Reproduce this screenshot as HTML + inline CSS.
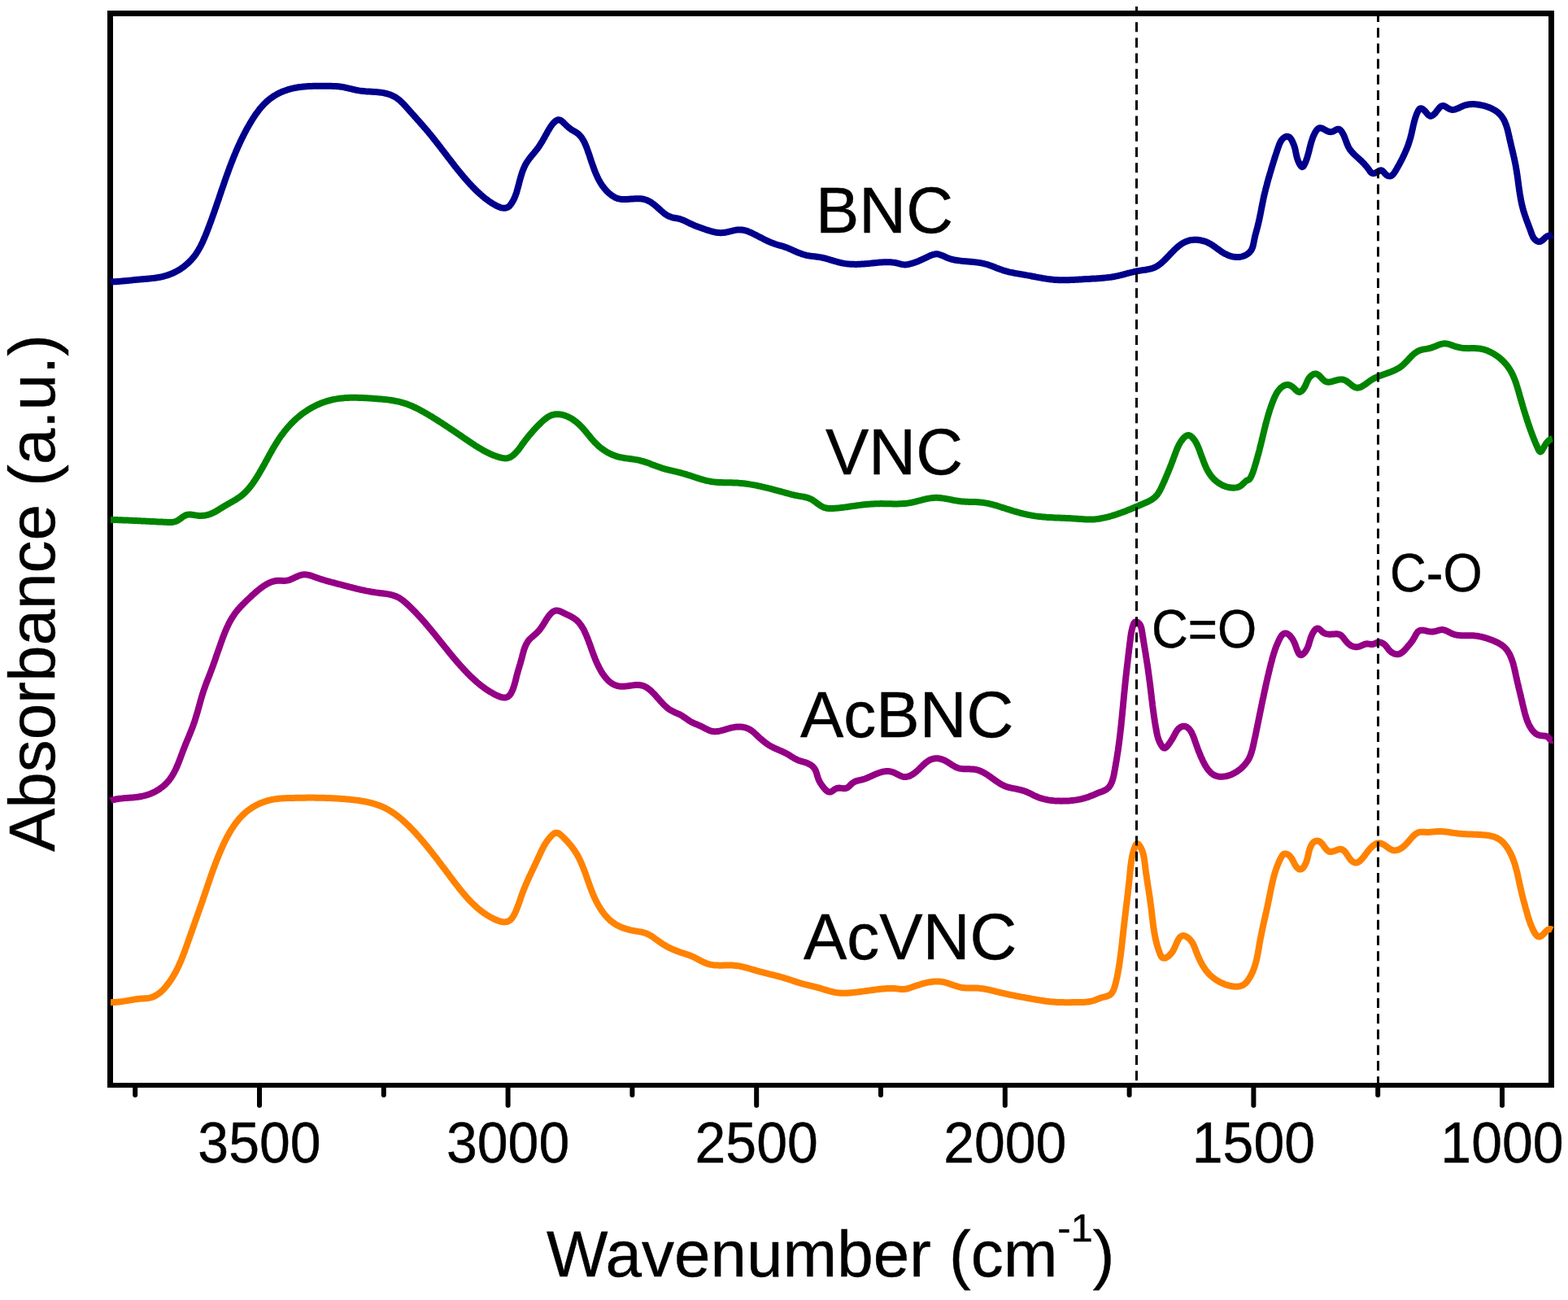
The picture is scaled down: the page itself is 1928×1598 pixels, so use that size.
<!DOCTYPE html><html><head><meta charset="utf-8"><title>FTIR spectra</title><style>html,body{margin:0;padding:0;background:#fff;}svg{display:block;}text{font-family:'Liberation Sans', Arial, sans-serif;fill:#000;stroke:#000;stroke-width:0.4px;}</style></head><body>
<svg width="1928" height="1598" viewBox="0 0 1928 1598">
<rect x="0" y="0" width="1928" height="1598" fill="#fff"/>
<rect x="132" y="13" width="7" height="1324" fill="#000"/>
<rect x="1904" y="13" width="7" height="1324" fill="#000"/>
<rect x="132" y="13" width="1779" height="7" fill="#000"/>
<rect x="132" y="1331" width="1779" height="6" fill="#000"/>
<line x1="319.0" y1="1334" x2="319.0" y2="1358.8" stroke="#000" stroke-width="6" stroke-linecap="round"/>
<line x1="624.6" y1="1334" x2="624.6" y2="1358.8" stroke="#000" stroke-width="6" stroke-linecap="round"/>
<line x1="930.2" y1="1334" x2="930.2" y2="1358.8" stroke="#000" stroke-width="6" stroke-linecap="round"/>
<line x1="1235.8" y1="1334" x2="1235.8" y2="1358.8" stroke="#000" stroke-width="6" stroke-linecap="round"/>
<line x1="1541.4" y1="1334" x2="1541.4" y2="1358.8" stroke="#000" stroke-width="6" stroke-linecap="round"/>
<line x1="1847.0" y1="1334" x2="1847.0" y2="1358.8" stroke="#000" stroke-width="6" stroke-linecap="round"/>
<line x1="166.2" y1="1334" x2="166.2" y2="1346" stroke="#000" stroke-width="6" stroke-linecap="round"/>
<line x1="471.8" y1="1334" x2="471.8" y2="1346" stroke="#000" stroke-width="6" stroke-linecap="round"/>
<line x1="777.4" y1="1334" x2="777.4" y2="1346" stroke="#000" stroke-width="6" stroke-linecap="round"/>
<line x1="1083.0" y1="1334" x2="1083.0" y2="1346" stroke="#000" stroke-width="6" stroke-linecap="round"/>
<line x1="1388.6" y1="1334" x2="1388.6" y2="1346" stroke="#000" stroke-width="6" stroke-linecap="round"/>
<line x1="1694.2" y1="1334" x2="1694.2" y2="1346" stroke="#000" stroke-width="6" stroke-linecap="round"/>
<path d="M136.0,346.5 136.5,346.4 138.0,346.4 139.5,346.3 141.0,346.3 142.5,346.2 144.0,346.1 145.5,346.0 147.0,345.9 148.5,345.7 150.0,345.6 151.5,345.5 153.0,345.3 154.4,345.2 155.9,345.1 157.4,344.9 158.9,344.8 160.4,344.6 161.9,344.4 163.4,344.3 164.9,344.1 166.4,344.0 167.9,343.8 169.4,343.7 170.9,343.6 172.4,343.4 173.9,343.3 175.4,343.2 176.8,343.0 178.3,342.9 179.8,342.8 181.3,342.7 182.8,342.5 184.3,342.4 185.8,342.2 187.3,342.1 188.8,341.9 190.3,341.7 191.8,341.5 193.3,341.3 194.7,341.0 196.2,340.8 197.7,340.5 199.1,340.2 200.6,339.8 202.1,339.4 203.5,339.0 204.9,338.6 206.4,338.1 207.8,337.7 209.2,337.1 210.6,336.6 212.0,336.0 213.3,335.4 214.7,334.7 216.0,334.0 217.4,333.3 218.7,332.6 220.0,331.9 221.2,331.1 222.5,330.3 223.7,329.4 225.0,328.5 226.2,327.6 227.3,326.7 228.5,325.8 229.7,324.8 230.8,323.8 231.9,322.8 233.0,321.7 234.0,320.7 235.0,319.6 236.0,318.5 237.0,317.3 238.0,316.2 238.9,315.0 239.8,313.8 240.7,312.6 241.5,311.3 242.3,310.1 243.1,308.8 243.9,307.5 244.7,306.2 245.4,304.9 246.1,303.6 246.8,302.3 247.5,300.9 248.1,299.6 248.8,298.2 249.4,296.9 250.0,295.5 250.6,294.1 251.2,292.8 251.8,291.4 252.4,290.0 253.0,288.6 253.5,287.2 254.1,285.8 254.6,284.4 255.2,283.0 255.7,281.6 256.2,280.2 256.8,278.8 257.3,277.4 257.8,276.0 258.3,274.6 258.9,273.2 259.4,271.8 259.9,270.4 260.4,269.0 260.9,267.5 261.4,266.1 261.9,264.7 262.4,263.3 262.9,261.9 263.4,260.5 263.9,259.1 264.4,257.6 264.9,256.2 265.4,254.8 265.9,253.4 266.3,252.0 266.8,250.5 267.3,249.1 267.8,247.7 268.3,246.3 268.8,244.9 269.3,243.4 269.7,242.0 270.2,240.6 270.7,239.2 271.2,237.8 271.7,236.3 272.1,234.9 272.6,233.5 273.1,232.1 273.6,230.7 274.1,229.2 274.6,227.8 275.1,226.4 275.6,225.0 276.0,223.6 276.5,222.2 277.0,220.7 277.5,219.3 278.0,217.9 278.5,216.5 279.0,215.1 279.5,213.7 280.1,212.3 280.6,210.8 281.1,209.4 281.6,208.0 282.1,206.6 282.6,205.2 283.2,203.8 283.7,202.4 284.2,201.0 284.8,199.6 285.3,198.2 285.9,196.8 286.4,195.4 287.0,194.0 287.5,192.6 288.1,191.3 288.7,189.9 289.3,188.5 289.8,187.1 290.4,185.7 291.0,184.3 291.6,183.0 292.2,181.6 292.8,180.2 293.4,178.8 294.1,177.5 294.7,176.1 295.3,174.8 296.0,173.4 296.6,172.0 297.2,170.7 297.9,169.3 298.6,168.0 299.2,166.7 299.9,165.3 300.6,164.0 301.3,162.6 302.0,161.3 302.7,160.0 303.4,158.7 304.1,157.4 304.9,156.1 305.6,154.8 306.4,153.5 307.1,152.2 307.9,150.9 308.7,149.6 309.4,148.3 310.2,147.0 311.0,145.8 311.8,144.5 312.7,143.2 313.5,142.0 314.3,140.7 315.2,139.5 316.1,138.3 317.0,137.1 317.9,135.9 318.8,134.7 319.7,133.5 320.7,132.4 321.7,131.2 322.7,130.1 323.7,129.0 324.7,127.9 325.8,126.9 326.9,125.8 328.0,124.8 329.1,123.8 330.2,122.9 331.4,121.9 332.6,121.0 333.8,120.1 335.0,119.3 336.3,118.4 337.5,117.6 338.8,116.9 340.1,116.1 341.4,115.4 342.8,114.7 344.1,114.0 345.5,113.4 346.9,112.8 348.2,112.2 349.6,111.7 351.1,111.2 352.5,110.7 353.9,110.2 355.3,109.8 356.8,109.4 358.2,109.0 359.7,108.7 361.2,108.3 362.6,108.0 364.1,107.8 365.6,107.5 367.1,107.3 368.5,107.0 370.0,106.9 371.5,106.7 373.0,106.5 374.5,106.4 376.0,106.3 377.5,106.2 379.0,106.1 380.5,106.0 382.0,105.9 383.5,105.9 385.0,105.8 386.5,105.8 388.0,105.8 389.5,105.8 391.0,105.7 392.5,105.7 394.0,105.7 395.5,105.8 397.0,105.8 398.5,105.8 400.0,105.8 401.5,105.8 403.0,105.8 404.5,105.8 406.0,105.8 407.5,105.8 409.0,105.9 410.5,105.9 412.0,106.0 413.5,106.0 415.0,106.2 416.5,106.3 418.0,106.5 419.5,106.7 420.9,106.9 422.4,107.2 423.9,107.5 425.4,107.8 426.8,108.1 428.3,108.5 429.7,108.8 431.2,109.1 432.7,109.5 434.1,109.8 435.6,110.2 437.0,110.5 438.5,110.8 440.0,111.1 441.5,111.4 442.9,111.6 444.4,111.8 445.9,112.0 447.4,112.1 448.9,112.2 450.4,112.4 451.9,112.5 453.4,112.6 454.9,112.6 456.4,112.7 457.9,112.8 459.4,112.9 460.9,113.0 462.4,113.1 463.9,113.2 465.4,113.4 466.9,113.5 468.4,113.7 469.8,113.9 471.3,114.2 472.8,114.5 474.3,114.8 475.7,115.2 477.2,115.6 478.6,116.0 480.0,116.5 481.4,117.1 482.8,117.7 484.1,118.4 485.4,119.1 486.7,119.8 488.0,120.7 489.2,121.6 490.4,122.5 491.5,123.4 492.6,124.4 493.7,125.5 494.8,126.5 495.9,127.6 496.9,128.7 497.9,129.8 498.9,130.9 499.9,132.0 500.9,133.1 501.9,134.2 502.9,135.4 503.9,136.5 504.9,137.6 505.9,138.7 506.9,139.9 507.9,141.0 508.9,142.1 509.9,143.2 510.9,144.3 511.9,145.5 512.9,146.6 513.9,147.7 514.9,148.8 515.9,149.9 516.9,151.1 517.8,152.2 518.8,153.3 519.8,154.4 520.8,155.6 521.8,156.7 522.8,157.8 523.8,159.0 524.7,160.1 525.7,161.3 526.7,162.4 527.6,163.6 528.6,164.7 529.5,165.9 530.5,167.0 531.4,168.2 532.4,169.4 533.3,170.6 534.2,171.7 535.2,172.9 536.1,174.1 537.0,175.3 537.9,176.4 538.9,177.6 539.8,178.8 540.7,180.0 541.6,181.2 542.5,182.4 543.4,183.6 544.3,184.8 545.3,186.0 546.2,187.1 547.1,188.3 548.0,189.5 548.9,190.7 549.8,191.9 550.7,193.1 551.6,194.3 552.6,195.5 553.5,196.7 554.4,197.9 555.3,199.0 556.2,200.2 557.1,201.4 558.1,202.6 559.0,203.8 559.9,205.0 560.9,206.1 561.8,207.3 562.7,208.5 563.7,209.6 564.6,210.8 565.6,212.0 566.5,213.1 567.5,214.3 568.4,215.4 569.4,216.6 570.4,217.7 571.4,218.9 572.3,220.0 573.3,221.1 574.3,222.3 575.3,223.4 576.3,224.5 577.3,225.6 578.3,226.7 579.4,227.8 580.4,228.9 581.4,230.0 582.5,231.0 583.5,232.1 584.6,233.2 585.7,234.2 586.7,235.3 587.8,236.3 588.9,237.3 590.0,238.3 591.1,239.3 592.3,240.3 593.4,241.3 594.6,242.3 595.7,243.2 596.9,244.1 598.1,245.0 599.3,245.9 600.5,246.8 601.8,247.7 603.0,248.5 604.3,249.3 605.5,250.1 606.8,250.9 608.1,251.6 609.4,252.4 610.8,253.1 612.1,253.7 613.5,254.3 614.9,254.9 616.3,255.3 617.8,255.6 619.3,255.8 620.8,255.8 622.3,255.6 623.7,255.1 625.0,254.4 626.2,253.5 627.2,252.4 628.1,251.2 629.0,250.0 629.8,248.7 630.5,247.4 631.3,246.1 631.9,244.8 632.6,243.4 633.1,242.0 633.7,240.6 634.2,239.2 634.7,237.8 635.2,236.4 635.6,234.9 636.0,233.5 636.4,232.0 636.8,230.6 637.2,229.1 637.6,227.7 638.0,226.2 638.3,224.8 638.7,223.3 639.1,221.9 639.5,220.4 639.9,219.0 640.3,217.6 640.7,216.1 641.2,214.7 641.6,213.3 642.1,211.8 642.6,210.4 643.1,209.0 643.7,207.6 644.3,206.2 644.9,204.9 645.5,203.5 646.2,202.2 647.0,200.9 647.7,199.6 648.6,198.3 649.4,197.1 650.3,195.9 651.2,194.7 652.1,193.5 653.0,192.3 654.0,191.2 654.9,190.0 655.9,188.9 656.9,187.7 657.8,186.5 658.8,185.4 659.7,184.2 660.6,183.0 661.5,181.8 662.4,180.6 663.2,179.3 664.0,178.1 664.8,176.8 665.6,175.5 666.4,174.3 667.2,173.0 667.9,171.7 668.6,170.4 669.4,169.1 670.1,167.7 670.8,166.4 671.6,165.1 672.3,163.8 673.0,162.5 673.8,161.2 674.5,159.9 675.3,158.6 676.1,157.3 676.9,156.0 677.7,154.8 678.6,153.6 679.5,152.4 680.5,151.3 681.5,150.2 682.6,149.2 683.8,148.3 685.2,147.6 686.6,147.2 688.1,147.4 689.5,148.0 690.7,148.8 691.8,149.8 692.9,150.8 694.0,151.9 695.1,152.9 696.2,154.0 697.2,155.0 698.4,156.0 699.5,157.0 700.7,157.9 701.9,158.8 703.1,159.6 704.4,160.4 705.7,161.1 707.0,161.9 708.3,162.7 709.6,163.5 710.7,164.4 711.9,165.4 712.9,166.5 713.9,167.6 714.9,168.8 715.7,170.0 716.5,171.3 717.3,172.6 718.0,173.9 718.7,175.2 719.3,176.6 719.9,178.0 720.5,179.3 721.0,180.7 721.6,182.1 722.1,183.5 722.6,185.0 723.1,186.4 723.6,187.8 724.1,189.2 724.6,190.6 725.1,192.0 725.5,193.5 726.0,194.9 726.5,196.3 726.9,197.7 727.4,199.2 727.9,200.6 728.4,202.0 728.9,203.4 729.4,204.8 729.9,206.2 730.4,207.7 730.9,209.1 731.5,210.5 732.0,211.8 732.6,213.2 733.2,214.6 733.8,216.0 734.4,217.3 735.1,218.7 735.7,220.0 736.4,221.4 737.2,222.7 737.9,224.0 738.7,225.3 739.5,226.5 740.3,227.8 741.2,229.0 742.1,230.2 743.0,231.4 744.0,232.5 745.0,233.7 746.0,234.8 747.0,235.8 748.1,236.9 749.2,237.9 750.4,238.8 751.6,239.8 752.8,240.6 754.1,241.4 755.4,242.2 756.7,242.9 758.1,243.4 759.5,244.0 760.9,244.3 762.4,244.6 763.9,244.9 765.4,245.0 766.9,245.0 768.4,245.0 769.9,245.0 771.4,244.9 772.9,244.8 774.4,244.7 775.9,244.6 777.4,244.5 778.9,244.4 780.4,244.3 781.9,244.2 783.4,244.2 784.9,244.2 786.4,244.2 787.9,244.3 789.4,244.5 790.8,244.7 792.3,245.1 793.7,245.5 795.2,246.0 796.5,246.6 797.9,247.2 799.2,247.9 800.5,248.7 801.7,249.6 802.9,250.5 804.1,251.4 805.3,252.3 806.4,253.3 807.6,254.3 808.7,255.3 809.8,256.3 810.9,257.3 812.0,258.3 813.1,259.3 814.3,260.3 815.4,261.2 816.6,262.2 817.8,263.1 819.0,263.9 820.3,264.7 821.6,265.4 823.0,266.1 824.4,266.6 825.8,267.1 827.3,267.5 828.7,267.8 830.2,268.0 831.7,268.3 833.2,268.5 834.6,268.8 836.1,269.2 837.5,269.7 838.9,270.2 840.3,270.8 841.7,271.4 843.0,272.0 844.4,272.7 845.7,273.4 847.1,274.0 848.4,274.7 849.8,275.3 851.2,275.9 852.5,276.5 853.9,277.1 855.3,277.7 856.7,278.2 858.1,278.8 859.5,279.3 860.9,279.8 862.3,280.3 863.7,280.8 865.1,281.3 866.6,281.8 868.0,282.3 869.4,282.7 870.8,283.2 872.3,283.6 873.7,284.0 875.2,284.5 876.6,284.8 878.1,285.2 879.5,285.5 881.0,285.8 882.5,286.0 884.0,286.1 885.5,286.2 887.0,286.2 888.5,286.1 890.0,286.0 891.5,285.8 892.9,285.5 894.4,285.2 895.9,284.8 897.3,284.5 898.8,284.1 900.2,283.8 901.7,283.4 903.2,283.1 904.6,282.8 906.1,282.6 907.6,282.5 909.1,282.4 910.6,282.4 912.1,282.5 913.6,282.8 915.1,283.0 916.5,283.4 918.0,283.8 919.4,284.3 920.8,284.9 922.2,285.4 923.5,286.0 924.9,286.7 926.2,287.3 927.6,288.0 928.9,288.7 930.3,289.4 931.6,290.1 932.9,290.8 934.2,291.4 935.6,292.1 936.9,292.8 938.2,293.5 939.6,294.2 940.9,294.9 942.3,295.5 943.6,296.2 945.0,296.8 946.4,297.4 947.7,298.0 949.1,298.5 950.5,299.1 951.9,299.6 953.4,300.1 954.8,300.5 956.2,301.0 957.7,301.4 959.1,301.8 960.6,302.2 962.0,302.6 963.4,303.1 964.9,303.6 966.3,304.1 967.7,304.6 969.1,305.1 970.5,305.7 971.8,306.3 973.2,306.9 974.6,307.5 975.9,308.1 977.3,308.7 978.7,309.4 980.1,309.9 981.4,310.5 982.8,311.1 984.2,311.6 985.7,312.1 987.1,312.6 988.5,313.0 990.0,313.4 991.4,313.8 992.9,314.1 994.4,314.3 995.9,314.6 997.3,314.8 998.8,314.9 1000.3,315.1 1001.8,315.3 1003.3,315.5 1004.8,315.7 1006.3,315.9 1007.8,316.1 1009.2,316.4 1010.7,316.7 1012.2,317.0 1013.6,317.3 1015.1,317.7 1016.5,318.1 1018.0,318.5 1019.4,318.9 1020.8,319.4 1022.3,319.8 1023.7,320.2 1025.1,320.7 1026.6,321.1 1028.0,321.5 1029.5,321.9 1030.9,322.3 1032.4,322.7 1033.8,323.0 1035.3,323.3 1036.8,323.6 1038.3,323.9 1039.7,324.1 1041.2,324.3 1042.7,324.4 1044.2,324.6 1045.7,324.7 1047.2,324.8 1048.7,324.8 1050.2,324.8 1051.7,324.9 1053.2,324.9 1054.7,324.8 1056.2,324.8 1057.7,324.7 1059.2,324.6 1060.7,324.6 1062.2,324.5 1063.7,324.3 1065.2,324.2 1066.7,324.1 1068.2,323.9 1069.7,323.8 1071.2,323.6 1072.7,323.5 1074.1,323.3 1075.6,323.2 1077.1,323.0 1078.6,322.9 1080.1,322.7 1081.6,322.6 1083.1,322.5 1084.6,322.4 1086.1,322.3 1087.6,322.2 1089.1,322.2 1090.6,322.2 1092.1,322.2 1093.6,322.2 1095.1,322.3 1096.6,322.4 1098.1,322.6 1099.6,322.8 1101.0,323.0 1102.5,323.3 1104.0,323.7 1105.4,324.1 1106.9,324.4 1108.3,324.8 1109.8,325.1 1111.3,325.3 1112.8,325.4 1114.3,325.3 1115.8,325.1 1117.2,324.8 1118.7,324.5 1120.2,324.1 1121.6,323.7 1123.0,323.2 1124.5,322.8 1125.9,322.3 1127.3,321.7 1128.7,321.2 1130.1,320.6 1131.4,320.0 1132.8,319.4 1134.2,318.8 1135.5,318.2 1136.9,317.5 1138.3,316.9 1139.6,316.2 1141.0,315.6 1142.3,314.9 1143.7,314.3 1145.1,313.7 1146.5,313.2 1147.9,312.8 1149.4,312.5 1150.9,312.3 1152.4,312.3 1153.8,312.5 1155.3,312.9 1156.7,313.4 1158.1,313.9 1159.5,314.5 1160.9,315.1 1162.2,315.8 1163.6,316.4 1165.0,317.0 1166.4,317.5 1167.8,318.0 1169.2,318.4 1170.7,318.8 1172.1,319.2 1173.6,319.5 1175.1,319.8 1176.6,320.0 1178.0,320.2 1179.5,320.4 1181.0,320.6 1182.5,320.8 1184.0,320.9 1185.5,321.1 1187.0,321.2 1188.5,321.3 1190.0,321.4 1191.5,321.5 1193.0,321.7 1194.5,321.8 1196.0,321.9 1197.5,322.1 1199.0,322.3 1200.4,322.4 1201.9,322.6 1203.4,322.8 1204.9,323.1 1206.4,323.3 1207.8,323.6 1209.3,323.9 1210.8,324.3 1212.2,324.6 1213.7,325.0 1215.1,325.5 1216.5,326.0 1217.9,326.5 1219.4,327.0 1220.8,327.5 1222.2,328.1 1223.5,328.6 1224.9,329.2 1226.3,329.7 1227.7,330.3 1229.1,330.8 1230.5,331.3 1232.0,331.8 1233.4,332.3 1234.8,332.7 1236.3,333.2 1237.7,333.5 1239.2,333.9 1240.6,334.3 1242.1,334.6 1243.5,334.9 1245.0,335.2 1246.5,335.5 1248.0,335.8 1249.4,336.1 1250.9,336.3 1252.4,336.6 1253.9,336.8 1255.3,337.1 1256.8,337.3 1258.3,337.6 1259.8,337.8 1261.3,338.1 1262.7,338.4 1264.2,338.6 1265.7,338.9 1267.2,339.2 1268.6,339.5 1270.1,339.8 1271.6,340.0 1273.1,340.3 1274.5,340.6 1276.0,340.9 1277.5,341.2 1279.0,341.4 1280.4,341.7 1281.9,342.0 1283.4,342.2 1284.9,342.4 1286.4,342.7 1287.8,342.9 1289.3,343.1 1290.8,343.3 1292.3,343.5 1293.8,343.6 1295.3,343.8 1296.8,343.9 1298.3,344.0 1299.8,344.1 1301.3,344.2 1302.8,344.2 1304.3,344.3 1305.8,344.3 1307.3,344.3 1308.8,344.3 1310.3,344.3 1311.8,344.3 1313.3,344.2 1314.8,344.2 1316.3,344.1 1317.8,344.1 1319.3,344.0 1320.8,343.9 1322.3,343.8 1323.8,343.7 1325.3,343.7 1326.8,343.6 1328.3,343.5 1329.7,343.4 1331.2,343.3 1332.7,343.2 1334.2,343.1 1335.7,343.0 1337.2,342.9 1338.7,342.9 1340.2,342.8 1341.7,342.7 1343.2,342.6 1344.7,342.5 1346.2,342.4 1347.7,342.4 1349.2,342.3 1350.7,342.2 1352.2,342.1 1353.7,341.9 1355.2,341.8 1356.7,341.7 1358.2,341.6 1359.7,341.4 1361.2,341.2 1362.7,341.1 1364.2,340.9 1365.6,340.7 1367.1,340.5 1368.6,340.2 1370.1,340.0 1371.6,339.7 1373.0,339.4 1374.5,339.1 1376.0,338.7 1377.4,338.4 1378.9,338.0 1380.3,337.7 1381.8,337.3 1383.2,336.9 1384.7,336.5 1386.1,336.1 1387.6,335.7 1389.0,335.4 1390.5,335.0 1391.9,334.6 1393.4,334.3 1394.9,333.9 1396.3,333.6 1397.8,333.3 1399.3,333.1 1400.8,332.8 1402.2,332.6 1403.7,332.3 1405.2,332.1 1406.7,331.9 1408.2,331.7 1409.7,331.5 1411.1,331.2 1412.6,330.9 1414.1,330.6 1415.5,330.2 1417.0,329.8 1418.4,329.3 1419.8,328.7 1421.1,328.1 1422.4,327.4 1423.7,326.6 1424.9,325.7 1426.2,324.9 1427.3,323.9 1428.5,322.9 1429.6,321.9 1430.7,320.9 1431.8,319.9 1432.8,318.8 1433.9,317.7 1434.9,316.7 1435.9,315.6 1437.0,314.5 1438.0,313.4 1439.0,312.3 1440.1,311.2 1441.1,310.1 1442.2,309.1 1443.2,308.0 1444.3,306.9 1445.4,305.9 1446.5,304.9 1447.6,303.9 1448.8,302.9 1449.9,302.0 1451.1,301.1 1452.3,300.2 1453.6,299.4 1454.9,298.6 1456.2,297.9 1457.6,297.3 1458.9,296.7 1460.3,296.2 1461.8,295.7 1463.2,295.3 1464.7,295.1 1466.2,294.9 1467.7,294.8 1469.2,294.7 1470.7,294.7 1472.2,294.8 1473.7,295.0 1475.2,295.2 1476.6,295.5 1478.1,295.8 1479.5,296.2 1481.0,296.6 1482.4,297.1 1483.8,297.6 1485.2,298.2 1486.5,298.9 1487.8,299.6 1489.1,300.4 1490.4,301.2 1491.7,302.0 1492.9,302.8 1494.1,303.7 1495.3,304.6 1496.5,305.5 1497.8,306.4 1499.0,307.2 1500.2,308.1 1501.4,309.0 1502.7,309.8 1503.9,310.6 1505.2,311.4 1506.6,312.1 1507.9,312.7 1509.3,313.4 1510.7,313.9 1512.1,314.4 1513.5,314.9 1515.0,315.3 1516.4,315.6 1517.9,315.8 1519.4,316.0 1520.9,316.0 1522.4,316.0 1523.9,315.9 1525.4,315.7 1526.8,315.4 1528.3,315.0 1529.7,314.5 1531.1,313.9 1532.4,313.2 1533.7,312.4 1534.9,311.5 1536.0,310.6 1537.0,309.5 1538.0,308.3 1538.8,307.0 1539.4,305.7 1540.0,304.3 1540.5,302.9 1540.9,301.4 1541.2,300.0 1541.5,298.5 1541.8,297.0 1542.1,295.5 1542.4,294.1 1542.7,292.6 1543.0,291.1 1543.4,289.7 1543.7,288.2 1544.1,286.8 1544.5,285.3 1544.9,283.9 1545.3,282.4 1545.7,281.0 1546.1,279.5 1546.4,278.1 1546.8,276.6 1547.2,275.2 1547.5,273.7 1547.8,272.2 1548.2,270.8 1548.5,269.3 1548.8,267.8 1549.1,266.4 1549.4,264.9 1549.7,263.4 1550.0,262.0 1550.3,260.5 1550.6,259.0 1550.8,257.5 1551.1,256.1 1551.4,254.6 1551.7,253.1 1552.0,251.7 1552.3,250.2 1552.6,248.7 1552.9,247.2 1553.2,245.8 1553.5,244.3 1553.8,242.8 1554.1,241.4 1554.5,239.9 1554.8,238.5 1555.2,237.0 1555.5,235.5 1555.9,234.1 1556.2,232.6 1556.6,231.2 1557.0,229.7 1557.4,228.3 1557.8,226.8 1558.1,225.4 1558.5,223.9 1558.9,222.5 1559.3,221.0 1559.7,219.6 1560.2,218.1 1560.6,216.7 1561.0,215.3 1561.4,213.8 1561.8,212.4 1562.3,210.9 1562.7,209.5 1563.1,208.1 1563.5,206.6 1564.0,205.2 1564.4,203.8 1564.8,202.3 1565.3,200.9 1565.7,199.4 1566.2,198.0 1566.6,196.6 1567.1,195.2 1567.5,193.7 1568.0,192.3 1568.4,190.9 1568.9,189.4 1569.4,188.0 1569.9,186.6 1570.3,185.2 1570.8,183.8 1571.3,182.3 1571.8,180.9 1572.3,179.5 1572.8,178.1 1573.4,176.7 1574.0,175.3 1574.7,174.0 1575.4,172.7 1576.3,171.5 1577.4,170.4 1578.5,169.4 1579.8,168.6 1581.1,168.0 1582.6,167.7 1584.1,167.9 1585.4,168.6 1586.4,169.6 1587.4,170.8 1588.2,172.1 1588.9,173.4 1589.5,174.8 1590.1,176.2 1590.7,177.5 1591.2,179.0 1591.7,180.4 1592.1,181.8 1592.5,183.3 1592.8,184.7 1593.1,186.2 1593.4,187.7 1593.7,189.1 1594.0,190.6 1594.4,192.1 1594.7,193.5 1595.2,195.0 1595.6,196.4 1596.2,197.8 1596.8,199.2 1597.4,200.5 1598.1,201.8 1598.9,203.1 1599.8,204.3 1601.0,205.2 1602.4,204.7 1603.2,203.5 1604.0,202.1 1604.6,200.8 1605.2,199.4 1605.8,198.0 1606.3,196.6 1606.8,195.2 1607.3,193.8 1607.7,192.3 1608.1,190.9 1608.5,189.5 1608.9,188.0 1609.3,186.6 1609.7,185.1 1610.0,183.6 1610.4,182.2 1610.7,180.7 1611.1,179.3 1611.5,177.8 1611.9,176.4 1612.3,174.9 1612.7,173.5 1613.2,172.1 1613.7,170.6 1614.2,169.2 1614.7,167.8 1615.3,166.5 1616.0,165.1 1616.6,163.8 1617.3,162.4 1618.1,161.2 1619.0,159.9 1620.0,158.8 1621.1,157.9 1622.5,157.3 1624.0,157.3 1625.4,157.7 1626.8,158.3 1628.1,159.0 1629.4,159.7 1630.7,160.5 1632.1,161.1 1633.5,161.7 1634.9,162.1 1636.4,162.2 1637.9,161.9 1639.3,161.4 1640.6,160.7 1641.9,160.0 1643.2,159.3 1644.7,158.8 1646.1,158.7 1647.5,159.4 1648.6,160.4 1649.5,161.5 1650.4,162.8 1651.1,164.1 1651.8,165.4 1652.5,166.8 1653.1,168.2 1653.6,169.5 1654.1,171.0 1654.7,172.4 1655.2,173.8 1655.7,175.2 1656.2,176.6 1656.8,178.0 1657.4,179.3 1658.0,180.7 1658.8,182.0 1659.5,183.3 1660.4,184.5 1661.3,185.7 1662.3,186.8 1663.3,188.0 1664.4,189.0 1665.4,190.1 1666.5,191.1 1667.6,192.1 1668.7,193.1 1669.8,194.1 1671.0,195.2 1672.1,196.2 1673.2,197.2 1674.2,198.2 1675.3,199.3 1676.4,200.4 1677.4,201.4 1678.4,202.6 1679.4,203.7 1680.3,204.8 1681.3,206.0 1682.2,207.2 1683.1,208.4 1683.9,209.6 1684.8,210.9 1685.7,212.0 1686.9,212.9 1688.4,213.2 1689.9,213.0 1691.3,212.5 1692.6,211.8 1694.0,211.1 1695.2,210.3 1696.6,209.7 1698.0,209.3 1699.5,209.8 1700.6,210.7 1701.6,211.8 1702.6,213.0 1703.6,214.1 1704.7,215.1 1706.0,215.9 1707.4,216.4 1708.9,216.6 1710.3,216.3 1711.6,215.5 1712.7,214.5 1713.7,213.4 1714.6,212.2 1715.4,210.9 1716.2,209.6 1716.9,208.3 1717.7,207.0 1718.4,205.7 1719.2,204.4 1719.9,203.1 1720.6,201.8 1721.3,200.5 1722.0,199.2 1722.7,197.8 1723.4,196.5 1724.1,195.2 1724.7,193.8 1725.4,192.5 1726.0,191.1 1726.7,189.7 1727.3,188.4 1727.9,187.0 1728.5,185.6 1729.1,184.3 1729.7,182.9 1730.2,181.5 1730.8,180.1 1731.3,178.7 1731.8,177.3 1732.3,175.8 1732.7,174.4 1733.2,173.0 1733.6,171.5 1734.1,170.1 1734.5,168.7 1734.8,167.2 1735.2,165.8 1735.6,164.3 1735.9,162.8 1736.2,161.4 1736.5,159.9 1736.9,158.4 1737.2,157.0 1737.5,155.5 1737.8,154.0 1738.2,152.6 1738.5,151.1 1738.9,149.7 1739.3,148.2 1739.7,146.8 1740.1,145.3 1740.6,143.9 1741.1,142.5 1741.6,141.1 1742.1,139.7 1742.8,138.3 1743.4,137.0 1744.1,135.6 1744.9,134.4 1746.1,133.4 1747.5,133.2 1748.9,133.7 1750.1,134.6 1751.2,135.6 1752.3,136.7 1753.3,137.8 1754.2,139.0 1755.2,140.1 1756.2,141.2 1757.4,142.1 1758.8,142.7 1760.3,142.5 1761.6,141.8 1762.8,140.9 1763.9,139.9 1764.9,138.8 1765.8,137.6 1766.7,136.4 1767.6,135.2 1768.6,134.0 1769.5,132.9 1770.5,131.8 1771.7,130.8 1773.0,130.1 1774.5,129.9 1775.9,130.3 1777.3,131.0 1778.6,131.8 1779.8,132.6 1781.1,133.4 1782.4,134.1 1783.8,134.6 1785.3,134.9 1786.8,134.9 1788.3,134.7 1789.7,134.3 1791.1,133.8 1792.5,133.3 1793.9,132.6 1795.2,132.0 1796.6,131.3 1797.9,130.7 1799.3,130.1 1800.7,129.6 1802.2,129.2 1803.6,128.8 1805.1,128.5 1806.6,128.3 1808.1,128.2 1809.6,128.1 1811.1,128.1 1812.6,128.1 1814.1,128.2 1815.6,128.4 1817.1,128.5 1818.5,128.7 1820.0,129.0 1821.5,129.3 1823.0,129.6 1824.4,129.9 1825.9,130.3 1827.3,130.8 1828.7,131.2 1830.1,131.7 1831.5,132.3 1832.9,132.9 1834.3,133.5 1835.6,134.2 1836.9,134.9 1838.2,135.7 1839.5,136.5 1840.7,137.4 1841.9,138.3 1843.0,139.3 1844.1,140.4 1845.1,141.5 1846.1,142.6 1847.0,143.8 1847.8,145.1 1848.6,146.3 1849.3,147.7 1850.0,149.0 1850.6,150.4 1851.1,151.8 1851.7,153.2 1852.2,154.6 1852.6,156.0 1853.1,157.4 1853.5,158.9 1853.9,160.3 1854.2,161.8 1854.6,163.2 1854.9,164.7 1855.2,166.2 1855.6,167.6 1855.9,169.1 1856.2,170.6 1856.5,172.0 1856.9,173.5 1857.2,174.9 1857.6,176.4 1857.9,177.9 1858.2,179.3 1858.6,180.8 1858.9,182.3 1859.3,183.7 1859.6,185.2 1860.0,186.6 1860.3,188.1 1860.7,189.6 1861.0,191.0 1861.3,192.5 1861.7,193.9 1862.0,195.4 1862.3,196.9 1862.6,198.3 1862.9,199.8 1863.2,201.3 1863.5,202.7 1863.8,204.2 1864.0,205.7 1864.3,207.2 1864.5,208.7 1864.8,210.1 1865.0,211.6 1865.2,213.1 1865.5,214.6 1865.7,216.1 1865.9,217.6 1866.1,219.0 1866.3,220.5 1866.5,222.0 1866.7,223.5 1866.9,225.0 1867.1,226.5 1867.3,228.0 1867.5,229.5 1867.7,230.9 1867.9,232.4 1868.1,233.9 1868.4,235.4 1868.6,236.9 1868.8,238.4 1869.1,239.8 1869.3,241.3 1869.6,242.8 1869.8,244.3 1870.1,245.7 1870.4,247.2 1870.7,248.7 1871.0,250.2 1871.3,251.6 1871.7,253.1 1872.0,254.5 1872.4,256.0 1872.8,257.4 1873.2,258.9 1873.6,260.3 1874.1,261.8 1874.5,263.2 1875.0,264.6 1875.5,266.0 1876.0,267.4 1876.5,268.9 1877.0,270.3 1877.5,271.7 1878.0,273.1 1878.6,274.5 1879.1,275.9 1879.6,277.3 1880.1,278.7 1880.7,280.1 1881.2,281.5 1881.7,282.9 1882.2,284.3 1882.7,285.7 1883.2,287.2 1883.8,288.6 1884.4,289.9 1885.0,291.3 1885.8,292.6 1886.7,293.8 1887.7,294.9 1888.9,295.8 1890.2,296.5 1891.6,297.0 1893.1,297.1 1894.5,296.7 1895.8,295.9 1897.0,295.0 1898.1,294.0 1899.2,293.0 1900.3,291.9 1901.5,291.0 1902.7,290.2 1904.2,289.7 1905.6,289.4 1907.1,289.2 1908.5,288.7 1908.8,288.5" fill="none" stroke="#00008B" stroke-width="8.0" stroke-linejoin="round" stroke-linecap="butt"/>
<path d="M136.0,638.9 136.5,638.9 138.0,639.0 139.5,639.0 141.0,639.0 142.5,639.1 144.0,639.1 145.5,639.2 147.0,639.2 148.5,639.3 150.0,639.3 151.5,639.4 153.0,639.4 154.5,639.5 156.0,639.5 157.5,639.6 159.0,639.7 160.5,639.7 162.0,639.8 163.5,639.9 165.0,639.9 166.5,640.0 168.0,640.1 169.5,640.2 171.0,640.2 172.5,640.3 174.0,640.4 175.5,640.5 177.0,640.5 178.5,640.6 180.0,640.7 181.5,640.8 183.0,640.8 184.5,640.9 186.0,641.0 187.5,641.1 189.0,641.1 190.5,641.2 192.0,641.3 193.5,641.4 195.0,641.4 196.5,641.5 198.0,641.6 199.5,641.6 201.0,641.7 202.5,641.8 204.0,641.8 205.5,641.9 207.0,642.0 208.5,642.0 210.0,642.0 211.5,641.9 213.0,641.7 214.4,641.4 215.9,641.0 217.3,640.4 218.6,639.7 219.9,638.9 221.1,638.1 222.3,637.2 223.5,636.3 224.7,635.4 226.0,634.6 227.3,633.9 228.7,633.2 230.1,632.8 231.6,632.6 233.1,632.5 234.6,632.6 236.1,632.7 237.6,632.9 239.0,633.2 240.5,633.4 242.0,633.6 243.5,633.8 245.0,633.9 246.5,633.9 248.0,633.9 249.5,633.8 251.0,633.7 252.5,633.5 253.9,633.2 255.4,632.8 256.9,632.4 258.3,632.0 259.7,631.4 261.1,630.8 262.4,630.2 263.7,629.5 265.1,628.8 266.4,628.0 267.6,627.3 268.9,626.5 270.2,625.7 271.5,624.9 272.7,624.1 274.0,623.3 275.3,622.5 276.6,621.8 277.9,621.0 279.2,620.3 280.5,619.6 281.8,618.8 283.1,618.1 284.4,617.3 285.7,616.6 287.0,615.8 288.3,615.1 289.6,614.3 290.9,613.5 292.1,612.7 293.4,611.8 294.6,611.0 295.8,610.1 297.0,609.1 298.2,608.2 299.3,607.2 300.4,606.2 301.5,605.2 302.6,604.1 303.6,603.0 304.6,601.9 305.6,600.8 306.6,599.7 307.5,598.5 308.4,597.3 309.4,596.1 310.3,594.9 311.1,593.7 312.0,592.5 312.8,591.2 313.7,590.0 314.5,588.7 315.3,587.4 316.1,586.2 316.9,584.9 317.6,583.6 318.4,582.3 319.2,581.0 319.9,579.7 320.7,578.4 321.4,577.1 322.2,575.8 322.9,574.5 323.6,573.2 324.4,571.9 325.1,570.6 325.8,569.3 326.5,567.9 327.2,566.6 328.0,565.3 328.7,564.0 329.4,562.7 330.1,561.4 330.8,560.0 331.6,558.7 332.3,557.4 333.0,556.1 333.8,554.8 334.5,553.5 335.2,552.2 336.0,550.9 336.7,549.6 337.5,548.3 338.3,547.0 339.1,545.7 339.9,544.5 340.7,543.2 341.5,541.9 342.3,540.7 343.1,539.4 344.0,538.2 344.8,536.9 345.7,535.7 346.6,534.5 347.5,533.3 348.4,532.1 349.3,530.9 350.2,529.7 351.2,528.6 352.1,527.4 353.1,526.3 354.1,525.1 355.1,524.0 356.1,522.9 357.1,521.8 358.1,520.7 359.2,519.6 360.2,518.6 361.3,517.5 362.4,516.5 363.5,515.5 364.6,514.4 365.7,513.5 366.9,512.5 368.0,511.5 369.2,510.6 370.4,509.6 371.5,508.7 372.8,507.8 374.0,507.0 375.2,506.1 376.5,505.3 377.7,504.5 379.0,503.6 380.3,502.9 381.5,502.1 382.9,501.4 384.2,500.6 385.5,499.9 386.8,499.2 388.2,498.6 389.5,497.9 390.9,497.3 392.3,496.7 393.7,496.1 395.0,495.6 396.4,495.0 397.9,494.5 399.3,494.0 400.7,493.6 402.1,493.1 403.6,492.7 405.0,492.3 406.5,491.9 407.9,491.5 409.4,491.2 410.9,490.9 412.3,490.6 413.8,490.4 415.3,490.1 416.8,489.9 418.3,489.7 419.8,489.5 421.2,489.4 422.7,489.3 424.2,489.1 425.7,489.0 427.2,489.0 428.7,488.9 430.2,488.8 431.7,488.8 433.2,488.8 434.7,488.8 436.2,488.8 437.7,488.8 439.2,488.8 440.7,488.9 442.2,488.9 443.7,489.0 445.2,489.0 446.7,489.1 448.2,489.2 449.7,489.3 451.2,489.3 452.7,489.4 454.2,489.5 455.7,489.6 457.2,489.7 458.7,489.8 460.2,489.9 461.7,490.1 463.2,490.2 464.7,490.3 466.2,490.4 467.7,490.5 469.2,490.6 470.7,490.8 472.2,490.9 473.7,491.1 475.2,491.2 476.7,491.4 478.1,491.6 479.6,491.8 481.1,492.0 482.6,492.3 484.1,492.5 485.6,492.8 487.0,493.1 488.5,493.4 490.0,493.7 491.4,494.0 492.9,494.4 494.3,494.8 495.8,495.2 497.2,495.7 498.6,496.1 500.0,496.6 501.5,497.1 502.9,497.7 504.3,498.2 505.6,498.8 507.0,499.4 508.4,500.0 509.7,500.6 511.1,501.3 512.5,501.9 513.8,502.6 515.1,503.3 516.5,504.0 517.8,504.7 519.1,505.4 520.4,506.1 521.7,506.9 523.0,507.6 524.3,508.4 525.6,509.1 526.9,509.9 528.2,510.7 529.5,511.4 530.8,512.2 532.0,513.0 533.3,513.8 534.6,514.6 535.9,515.4 537.1,516.2 538.4,517.0 539.7,517.8 540.9,518.6 542.2,519.4 543.5,520.2 544.7,521.1 546.0,521.9 547.2,522.7 548.5,523.5 549.7,524.4 551.0,525.2 552.2,526.0 553.5,526.9 554.7,527.7 556.0,528.5 557.2,529.4 558.5,530.2 559.7,531.0 560.9,531.9 562.2,532.7 563.4,533.6 564.7,534.4 565.9,535.2 567.2,536.1 568.4,536.9 569.6,537.8 570.9,538.6 572.1,539.5 573.4,540.3 574.6,541.1 575.9,542.0 577.1,542.8 578.3,543.7 579.6,544.5 580.8,545.3 582.1,546.1 583.4,547.0 584.6,547.8 585.9,548.6 587.2,549.4 588.4,550.2 589.7,550.9 591.0,551.7 592.3,552.5 593.6,553.2 594.9,554.0 596.2,554.7 597.6,555.4 598.9,556.1 600.2,556.7 601.6,557.4 602.9,558.0 604.3,558.6 605.7,559.2 607.1,559.8 608.5,560.3 609.9,560.8 611.3,561.3 612.8,561.7 614.2,562.2 615.7,562.5 617.1,562.9 618.6,563.1 620.1,563.3 621.6,563.4 623.1,563.3 624.6,563.1 626.0,562.6 627.4,562.0 628.7,561.3 629.9,560.4 631.1,559.5 632.2,558.5 633.3,557.4 634.3,556.4 635.3,555.3 636.3,554.1 637.3,553.0 638.2,551.8 639.1,550.6 640.0,549.4 640.9,548.2 641.7,546.9 642.6,545.7 643.5,544.5 644.4,543.3 645.3,542.1 646.2,540.9 647.1,539.7 648.1,538.5 649.0,537.4 649.9,536.2 650.9,535.0 651.8,533.9 652.8,532.7 653.8,531.6 654.8,530.5 655.8,529.3 656.8,528.2 657.8,527.1 658.8,526.0 659.8,524.9 660.9,523.9 661.9,522.8 663.0,521.7 664.1,520.7 665.1,519.6 666.2,518.6 667.3,517.6 668.4,516.6 669.6,515.6 670.8,514.7 672.0,513.8 673.2,512.9 674.5,512.1 675.8,511.4 677.1,510.8 678.5,510.2 680.0,509.8 681.5,509.5 682.9,509.3 684.4,509.2 685.9,509.2 687.4,509.3 688.9,509.4 690.4,509.7 691.9,510.0 693.3,510.4 694.7,510.8 696.2,511.4 697.5,511.9 698.9,512.6 700.3,513.2 701.6,513.9 702.9,514.7 704.1,515.5 705.4,516.3 706.6,517.2 707.8,518.1 709.0,519.0 710.1,520.0 711.3,521.0 712.4,522.0 713.4,523.1 714.5,524.1 715.5,525.2 716.5,526.3 717.5,527.4 718.5,528.6 719.5,529.7 720.5,530.9 721.4,532.0 722.4,533.2 723.3,534.3 724.3,535.5 725.2,536.7 726.2,537.8 727.1,539.0 728.1,540.1 729.1,541.2 730.1,542.4 731.1,543.5 732.2,544.5 733.2,545.6 734.3,546.6 735.4,547.7 736.5,548.7 737.7,549.6 738.8,550.6 740.0,551.5 741.2,552.4 742.5,553.2 743.7,554.1 745.0,554.9 746.3,555.7 747.6,556.4 748.9,557.1 750.2,557.8 751.6,558.4 753.0,559.0 754.3,559.6 755.7,560.1 757.2,560.6 758.6,561.1 760.0,561.5 761.5,561.8 763.0,562.1 764.4,562.4 765.9,562.7 767.4,563.0 768.9,563.2 770.4,563.4 771.9,563.6 773.3,563.8 774.8,564.0 776.3,564.2 777.8,564.4 779.3,564.6 780.8,564.9 782.3,565.1 783.7,565.4 785.2,565.7 786.7,566.0 788.1,566.4 789.6,566.8 791.0,567.2 792.4,567.6 793.9,568.1 795.3,568.6 796.7,569.1 798.1,569.6 799.5,570.1 800.9,570.7 802.3,571.2 803.7,571.7 805.1,572.3 806.5,572.8 807.9,573.3 809.3,573.8 810.8,574.3 812.2,574.8 813.6,575.3 815.0,575.7 816.5,576.2 817.9,576.6 819.4,577.0 820.8,577.3 822.3,577.7 823.7,578.0 825.2,578.4 826.7,578.7 828.1,579.1 829.6,579.4 831.0,579.7 832.5,580.1 834.0,580.4 835.4,580.8 836.9,581.2 838.3,581.6 839.8,582.0 841.2,582.4 842.7,582.8 844.1,583.2 845.5,583.7 846.9,584.2 848.4,584.6 849.8,585.1 851.2,585.6 852.7,586.0 854.1,586.5 855.5,587.0 856.9,587.4 858.4,587.9 859.8,588.3 861.2,588.8 862.7,589.2 864.1,589.6 865.6,590.0 867.0,590.4 868.5,590.8 869.9,591.1 871.4,591.4 872.9,591.7 874.3,592.0 875.8,592.2 877.3,592.4 878.8,592.6 880.3,592.7 881.8,592.8 883.3,592.9 884.8,593.0 886.3,593.1 887.8,593.1 889.3,593.2 890.8,593.2 892.3,593.2 893.8,593.2 895.3,593.3 896.8,593.3 898.3,593.3 899.8,593.3 901.3,593.4 902.8,593.4 904.3,593.5 905.8,593.6 907.3,593.6 908.8,593.8 910.3,593.9 911.8,594.0 913.3,594.2 914.8,594.3 916.3,594.5 917.7,594.7 919.2,594.9 920.7,595.1 922.2,595.4 923.7,595.6 925.2,595.9 926.6,596.1 928.1,596.4 929.6,596.7 931.1,597.0 932.5,597.3 934.0,597.6 935.5,597.9 936.9,598.3 938.4,598.6 939.8,598.9 941.3,599.3 942.8,599.6 944.2,600.0 945.7,600.4 947.1,600.7 948.6,601.1 950.0,601.5 951.5,601.9 952.9,602.3 954.4,602.7 955.8,603.1 957.3,603.4 958.7,603.8 960.2,604.2 961.6,604.6 963.1,605.0 964.5,605.4 966.0,605.8 967.4,606.2 968.9,606.6 970.3,607.0 971.8,607.4 973.2,607.8 974.7,608.1 976.1,608.5 977.6,608.8 979.1,609.1 980.5,609.4 982.0,609.7 983.5,609.9 985.0,610.2 986.4,610.4 987.9,610.7 989.4,611.0 990.9,611.3 992.3,611.7 993.7,612.1 995.2,612.7 996.5,613.3 997.9,613.9 999.2,614.7 1000.4,615.5 1001.6,616.4 1002.9,617.3 1004.1,618.2 1005.3,619.1 1006.5,619.9 1007.7,620.8 1009.0,621.6 1010.3,622.4 1011.6,623.1 1013.0,623.7 1014.4,624.2 1015.8,624.5 1017.3,624.8 1018.8,624.9 1020.3,625.0 1021.8,625.0 1023.3,625.0 1024.8,624.9 1026.3,624.8 1027.8,624.7 1029.3,624.6 1030.8,624.4 1032.3,624.3 1033.8,624.1 1035.3,624.0 1036.8,623.8 1038.3,623.6 1039.7,623.4 1041.2,623.2 1042.7,623.0 1044.2,622.7 1045.7,622.5 1047.2,622.3 1048.7,622.1 1050.1,621.9 1051.6,621.7 1053.1,621.5 1054.6,621.3 1056.1,621.1 1057.6,620.9 1059.1,620.7 1060.6,620.5 1062.0,620.3 1063.5,620.2 1065.0,620.0 1066.5,619.9 1068.0,619.8 1069.5,619.7 1071.0,619.6 1072.5,619.5 1074.0,619.4 1075.5,619.3 1077.0,619.3 1078.5,619.2 1080.0,619.2 1081.5,619.2 1083.0,619.1 1084.5,619.1 1086.0,619.2 1087.5,619.2 1089.0,619.2 1090.5,619.2 1092.0,619.3 1093.5,619.3 1095.0,619.3 1096.5,619.3 1098.0,619.4 1099.5,619.4 1101.0,619.4 1102.5,619.4 1104.0,619.4 1105.5,619.3 1107.0,619.3 1108.5,619.2 1110.0,619.1 1111.5,619.0 1113.0,618.9 1114.5,618.8 1116.0,618.6 1117.5,618.3 1119.0,618.1 1120.4,617.8 1121.9,617.5 1123.4,617.2 1124.8,616.8 1126.3,616.5 1127.7,616.1 1129.2,615.7 1130.6,615.4 1132.1,615.0 1133.6,614.6 1135.0,614.2 1136.5,613.9 1137.9,613.5 1139.4,613.2 1140.9,612.9 1142.3,612.6 1143.8,612.4 1145.3,612.2 1146.8,612.0 1148.3,611.9 1149.8,611.8 1151.3,611.8 1152.8,611.8 1154.3,611.9 1155.8,612.0 1157.3,612.2 1158.8,612.4 1160.3,612.6 1161.7,612.8 1163.2,613.1 1164.7,613.3 1166.2,613.6 1167.6,613.9 1169.1,614.2 1170.6,614.5 1172.0,614.8 1173.5,615.1 1175.0,615.3 1176.5,615.6 1178.0,615.8 1179.4,616.0 1180.9,616.2 1182.4,616.4 1183.9,616.5 1185.4,616.6 1186.9,616.7 1188.4,616.8 1189.9,616.8 1191.4,616.9 1192.9,616.9 1194.4,616.9 1195.9,617.0 1197.4,617.0 1198.9,617.1 1200.4,617.1 1201.9,617.2 1203.4,617.3 1204.9,617.4 1206.4,617.6 1207.9,617.7 1209.4,617.9 1210.9,618.2 1212.3,618.4 1213.8,618.7 1215.3,619.0 1216.8,619.3 1218.2,619.7 1219.7,620.0 1221.1,620.4 1222.6,620.8 1224.0,621.2 1225.5,621.6 1226.9,622.1 1228.3,622.5 1229.8,623.0 1231.2,623.4 1232.6,623.9 1234.0,624.3 1235.5,624.8 1236.9,625.3 1238.3,625.7 1239.8,626.2 1241.2,626.6 1242.6,627.1 1244.1,627.5 1245.5,628.0 1246.9,628.4 1248.4,628.8 1249.8,629.2 1251.3,629.6 1252.7,630.0 1254.1,630.4 1255.6,630.8 1257.1,631.2 1258.5,631.5 1260.0,631.9 1261.4,632.2 1262.9,632.5 1264.4,632.9 1265.8,633.1 1267.3,633.4 1268.8,633.7 1270.3,633.9 1271.8,634.2 1273.2,634.4 1274.7,634.6 1276.2,634.8 1277.7,634.9 1279.2,635.1 1280.7,635.2 1282.2,635.4 1283.7,635.5 1285.2,635.6 1286.7,635.8 1288.2,635.9 1289.7,636.0 1291.2,636.0 1292.7,636.1 1294.2,636.2 1295.7,636.3 1297.2,636.4 1298.7,636.4 1300.2,636.5 1301.7,636.5 1303.2,636.6 1304.7,636.7 1306.2,636.7 1307.7,636.8 1309.2,636.8 1310.7,636.9 1312.2,637.0 1313.7,637.0 1315.2,637.1 1316.7,637.2 1318.2,637.3 1319.7,637.4 1321.2,637.4 1322.6,637.5 1324.1,637.7 1325.6,637.8 1327.1,637.9 1328.6,638.0 1330.1,638.1 1331.6,638.2 1333.1,638.3 1334.6,638.4 1336.1,638.5 1337.6,638.5 1339.1,638.6 1340.6,638.6 1342.1,638.5 1343.6,638.5 1345.1,638.4 1346.6,638.3 1348.1,638.1 1349.6,637.9 1351.1,637.7 1352.6,637.5 1354.0,637.2 1355.5,636.9 1357.0,636.6 1358.5,636.3 1359.9,636.0 1361.4,635.6 1362.8,635.3 1364.3,634.9 1365.7,634.5 1367.2,634.0 1368.6,633.6 1370.0,633.2 1371.5,632.7 1372.9,632.2 1374.3,631.8 1375.7,631.3 1377.2,630.8 1378.6,630.3 1380.0,629.8 1381.4,629.2 1382.8,628.7 1384.2,628.2 1385.6,627.6 1387.0,627.1 1388.4,626.5 1389.8,625.9 1391.1,625.4 1392.5,624.8 1393.9,624.2 1395.3,623.6 1396.7,623.1 1398.1,622.5 1399.5,621.9 1400.8,621.3 1402.2,620.7 1403.6,620.1 1405.0,619.5 1406.4,618.9 1407.7,618.3 1409.1,617.7 1410.5,617.1 1411.8,616.5 1413.2,615.8 1414.5,615.1 1415.8,614.3 1417.0,613.5 1418.2,612.6 1419.4,611.7 1420.5,610.7 1421.6,609.6 1422.6,608.5 1423.5,607.3 1424.3,606.0 1425.1,604.8 1425.9,603.5 1426.6,602.2 1427.3,600.8 1427.9,599.5 1428.6,598.1 1429.2,596.7 1429.8,595.4 1430.4,594.0 1431.1,592.6 1431.7,591.3 1432.3,589.9 1432.9,588.5 1433.5,587.1 1434.0,585.8 1434.6,584.4 1435.2,583.0 1435.8,581.6 1436.4,580.2 1436.9,578.8 1437.5,577.4 1438.1,576.0 1438.6,574.6 1439.2,573.3 1439.7,571.9 1440.3,570.5 1440.8,569.1 1441.3,567.7 1441.9,566.3 1442.4,564.8 1442.9,563.4 1443.4,562.0 1443.9,560.6 1444.5,559.2 1445.0,557.8 1445.5,556.4 1446.0,555.0 1446.6,553.6 1447.1,552.2 1447.7,550.8 1448.3,549.4 1449.0,548.1 1449.6,546.8 1450.4,545.4 1451.1,544.1 1451.9,542.9 1452.8,541.7 1453.7,540.4 1454.6,539.3 1455.6,538.2 1456.7,537.1 1457.9,536.2 1459.2,535.4 1460.6,535.0 1462.1,535.1 1463.5,535.7 1464.7,536.5 1465.9,537.5 1466.9,538.6 1467.8,539.7 1468.7,541.0 1469.6,542.2 1470.3,543.5 1471.1,544.8 1471.7,546.1 1472.4,547.5 1473.0,548.9 1473.6,550.3 1474.1,551.6 1474.7,553.0 1475.2,554.4 1475.7,555.9 1476.2,557.3 1476.7,558.7 1477.2,560.1 1477.7,561.5 1478.3,562.9 1478.8,564.3 1479.3,565.7 1479.8,567.1 1480.4,568.5 1480.9,569.9 1481.5,571.3 1482.1,572.7 1482.7,574.1 1483.3,575.4 1484.0,576.8 1484.7,578.1 1485.4,579.4 1486.2,580.7 1487.0,582.0 1487.8,583.2 1488.7,584.4 1489.6,585.6 1490.6,586.8 1491.6,587.9 1492.6,589.0 1493.7,590.0 1494.8,591.0 1496.0,592.0 1497.2,592.9 1498.4,593.7 1499.7,594.5 1501.0,595.3 1502.3,596.0 1503.6,596.7 1505.0,597.3 1506.4,597.8 1507.8,598.3 1509.3,598.7 1510.7,599.0 1512.2,599.3 1513.7,599.5 1515.2,599.6 1516.7,599.7 1518.2,599.6 1519.7,599.4 1521.2,599.1 1522.6,598.7 1524.0,598.1 1525.3,597.3 1526.5,596.5 1527.6,595.5 1528.7,594.5 1529.8,593.4 1530.9,592.4 1532.0,591.4 1533.2,590.5 1534.7,590.2 1536.0,589.4 1536.9,588.3 1537.7,587.0 1538.4,585.7 1539.0,584.3 1539.6,582.9 1540.2,581.5 1540.7,580.1 1541.2,578.7 1541.6,577.3 1542.1,575.9 1542.5,574.4 1543.0,573.0 1543.4,571.5 1543.8,570.1 1544.3,568.7 1544.7,567.2 1545.1,565.8 1545.5,564.3 1545.9,562.9 1546.3,561.5 1546.7,560.0 1547.1,558.6 1547.5,557.1 1547.9,555.7 1548.3,554.2 1548.7,552.8 1549.0,551.3 1549.4,549.8 1549.7,548.4 1550.1,546.9 1550.5,545.5 1550.8,544.0 1551.2,542.6 1551.5,541.1 1551.9,539.6 1552.2,538.2 1552.6,536.7 1552.9,535.3 1553.3,533.8 1553.6,532.3 1554.0,530.9 1554.3,529.4 1554.7,528.0 1555.0,526.5 1555.4,525.1 1555.8,523.6 1556.1,522.1 1556.5,520.7 1556.9,519.2 1557.3,517.8 1557.7,516.3 1558.1,514.9 1558.5,513.5 1558.9,512.0 1559.3,510.6 1559.7,509.1 1560.2,507.7 1560.6,506.3 1561.1,504.8 1561.5,503.4 1562.0,502.0 1562.5,500.6 1563.0,499.1 1563.5,497.7 1564.0,496.3 1564.5,494.9 1565.1,493.5 1565.6,492.1 1566.2,490.7 1566.8,489.3 1567.4,488.0 1568.0,486.6 1568.7,485.3 1569.4,483.9 1570.1,482.6 1571.0,481.4 1571.8,480.2 1572.8,479.0 1573.8,477.9 1574.8,476.8 1576.0,475.9 1577.2,475.0 1578.5,474.2 1579.8,473.6 1581.3,473.1 1582.8,472.9 1584.3,473.0 1585.7,473.5 1587.0,474.1 1588.3,474.9 1589.5,475.8 1590.7,476.8 1591.8,477.8 1592.8,478.8 1593.9,479.9 1595.1,480.9 1596.3,481.7 1597.8,482.0 1599.2,481.5 1600.4,480.7 1601.5,479.6 1602.4,478.5 1603.3,477.2 1604.1,475.9 1604.8,474.6 1605.4,473.3 1606.0,471.9 1606.6,470.5 1607.2,469.1 1607.8,467.8 1608.5,466.4 1609.3,465.1 1610.2,463.9 1611.2,462.8 1612.3,461.8 1613.5,460.9 1614.8,460.1 1616.2,459.6 1617.6,459.4 1619.1,459.7 1620.4,460.4 1621.6,461.3 1622.7,462.3 1623.8,463.4 1624.8,464.5 1625.8,465.6 1626.9,466.6 1628.0,467.6 1629.2,468.5 1630.5,469.2 1632.0,469.6 1633.5,469.7 1635.0,469.6 1636.5,469.3 1637.9,469.0 1639.4,468.6 1640.8,468.1 1642.2,467.7 1643.7,467.3 1645.1,466.9 1646.6,466.6 1648.1,466.4 1649.6,466.4 1651.1,466.5 1652.5,466.9 1653.9,467.4 1655.2,468.1 1656.5,469.0 1657.7,469.9 1658.8,470.8 1660.0,471.8 1661.2,472.8 1662.3,473.7 1663.5,474.6 1664.8,475.4 1666.1,476.1 1667.6,476.5 1669.1,476.7 1670.5,476.6 1672.0,476.2 1673.4,475.7 1674.7,475.0 1676.0,474.2 1677.3,473.4 1678.5,472.6 1679.8,471.7 1681.0,470.8 1682.2,469.9 1683.4,469.0 1684.6,468.2 1685.9,467.3 1687.1,466.5 1688.4,465.8 1689.7,465.0 1691.1,464.4 1692.4,463.7 1693.8,463.1 1695.2,462.5 1696.6,461.9 1698.0,461.4 1699.4,460.9 1700.8,460.4 1702.2,459.9 1703.6,459.4 1705.0,458.9 1706.5,458.4 1707.9,457.9 1709.3,457.4 1710.7,456.9 1712.1,456.3 1713.5,455.7 1714.8,455.1 1716.2,454.5 1717.5,453.8 1718.8,453.1 1720.1,452.3 1721.4,451.5 1722.6,450.6 1723.8,449.7 1724.9,448.7 1726.1,447.7 1727.1,446.7 1728.2,445.6 1729.2,444.5 1730.3,443.5 1731.3,442.4 1732.3,441.3 1733.3,440.2 1734.4,439.1 1735.4,438.0 1736.5,437.0 1737.6,435.9 1738.7,434.9 1739.9,434.0 1741.1,433.1 1742.4,432.3 1743.7,431.6 1745.0,431.0 1746.5,430.4 1747.9,430.0 1749.4,429.7 1750.8,429.4 1752.3,429.1 1753.8,428.9 1755.3,428.6 1756.7,428.3 1758.2,428.0 1759.6,427.6 1761.1,427.1 1762.5,426.6 1763.9,426.1 1765.3,425.5 1766.7,424.9 1768.0,424.3 1769.4,423.8 1770.9,423.3 1772.3,422.9 1773.8,422.6 1775.2,422.3 1776.7,422.3 1778.2,422.4 1779.7,422.6 1781.2,423.0 1782.6,423.4 1784.0,423.9 1785.5,424.4 1786.9,424.9 1788.3,425.4 1789.7,425.9 1791.1,426.3 1792.6,426.7 1794.0,427.0 1795.5,427.3 1797.0,427.6 1798.5,427.8 1800.0,427.9 1801.5,428.0 1803.0,428.1 1804.5,428.1 1806.0,428.2 1807.5,428.1 1809.0,428.1 1810.5,428.1 1812.0,428.1 1813.5,428.1 1815.0,428.2 1816.5,428.2 1818.0,428.4 1819.5,428.5 1821.0,428.8 1822.4,429.1 1823.9,429.4 1825.3,429.8 1826.7,430.3 1828.2,430.8 1829.6,431.4 1830.9,432.0 1832.3,432.6 1833.6,433.3 1835.0,434.0 1836.3,434.7 1837.5,435.5 1838.8,436.3 1840.1,437.1 1841.3,438.0 1842.5,438.9 1843.7,439.8 1844.8,440.8 1845.9,441.8 1847.0,442.8 1848.1,443.8 1849.2,444.9 1850.2,446.0 1851.2,447.1 1852.2,448.3 1853.1,449.4 1854.0,450.6 1854.9,451.9 1855.7,453.1 1856.6,454.4 1857.3,455.6 1858.1,456.9 1858.8,458.3 1859.5,459.6 1860.1,461.0 1860.7,462.3 1861.3,463.7 1861.9,465.1 1862.5,466.5 1863.0,467.9 1863.5,469.3 1864.0,470.7 1864.5,472.1 1864.9,473.6 1865.4,475.0 1865.8,476.4 1866.3,477.9 1866.7,479.3 1867.1,480.7 1867.5,482.2 1867.9,483.6 1868.3,485.1 1868.7,486.5 1869.1,488.0 1869.6,489.4 1870.0,490.9 1870.4,492.3 1870.8,493.7 1871.2,495.2 1871.6,496.6 1872.1,498.1 1872.5,499.5 1872.9,500.9 1873.4,502.4 1873.8,503.8 1874.2,505.2 1874.7,506.7 1875.1,508.1 1875.6,509.5 1876.0,511.0 1876.5,512.4 1876.9,513.8 1877.4,515.3 1877.8,516.7 1878.3,518.1 1878.8,519.5 1879.3,521.0 1879.8,522.4 1880.2,523.8 1880.7,525.2 1881.2,526.6 1881.7,528.0 1882.2,529.5 1882.8,530.9 1883.3,532.3 1883.8,533.7 1884.3,535.1 1884.9,536.5 1885.4,537.9 1885.9,539.3 1886.5,540.7 1887.1,542.1 1887.6,543.5 1888.2,544.9 1888.8,546.2 1889.4,547.6 1890.0,549.0 1890.6,550.4 1891.2,551.7 1891.9,553.1 1892.6,554.4 1893.7,555.4 1895.0,555.0 1896.0,553.8 1896.7,552.5 1897.5,551.2 1898.2,549.9 1898.9,548.6 1899.7,547.3 1900.5,546.0 1901.3,544.8 1902.3,543.6 1903.3,542.5 1904.4,541.5 1905.6,540.6 1906.9,539.9 1908.3,539.4 1908.8,539.3" fill="none" stroke="#008400" stroke-width="8.0" stroke-linejoin="round" stroke-linecap="butt"/>
<path d="M136.0,984.1 136.4,983.9 137.9,983.5 139.3,983.1 140.8,982.8 142.2,982.5 143.7,982.2 145.2,982.0 146.7,981.8 148.2,981.6 149.7,981.4 151.2,981.3 152.7,981.1 154.2,981.0 155.7,980.9 157.1,980.8 158.6,980.7 160.1,980.6 161.6,980.5 163.1,980.4 164.6,980.2 166.1,980.1 167.6,979.9 169.1,979.7 170.6,979.5 172.1,979.3 173.5,979.0 175.0,978.7 176.5,978.4 177.9,978.0 179.4,977.6 180.8,977.2 182.2,976.7 183.7,976.2 185.1,975.7 186.4,975.1 187.8,974.5 189.2,973.9 190.5,973.2 191.8,972.5 193.1,971.7 194.4,971.0 195.7,970.1 196.9,969.3 198.1,968.4 199.3,967.5 200.5,966.6 201.6,965.6 202.8,964.6 203.8,963.6 204.9,962.5 205.9,961.4 206.9,960.3 207.9,959.1 208.8,957.9 209.7,956.7 210.5,955.5 211.3,954.2 212.1,953.0 212.9,951.7 213.6,950.4 214.3,949.0 215.0,947.7 215.7,946.4 216.3,945.0 217.0,943.6 217.6,942.3 218.2,940.9 218.7,939.5 219.3,938.1 219.9,936.7 220.4,935.3 220.9,933.9 221.5,932.5 222.0,931.1 222.5,929.7 223.0,928.3 223.6,926.9 224.1,925.5 224.6,924.1 225.1,922.7 225.7,921.3 226.2,919.9 226.8,918.5 227.3,917.1 227.9,915.7 228.4,914.3 229.0,912.9 229.6,911.5 230.2,910.1 230.7,908.8 231.3,907.4 231.9,906.0 232.5,904.6 233.0,903.2 233.6,901.8 234.2,900.4 234.7,899.0 235.3,897.6 235.8,896.2 236.4,894.8 236.9,893.4 237.4,892.0 237.9,890.6 238.4,889.2 238.9,887.8 239.4,886.4 239.8,884.9 240.3,883.5 240.7,882.1 241.2,880.6 241.6,879.2 242.0,877.8 242.4,876.3 242.9,874.9 243.3,873.4 243.7,872.0 244.1,870.5 244.5,869.1 244.9,867.7 245.3,866.2 245.7,864.8 246.1,863.3 246.5,861.9 246.9,860.4 247.3,859.0 247.7,857.6 248.2,856.1 248.6,854.7 249.0,853.2 249.5,851.8 249.9,850.4 250.4,849.0 250.9,847.5 251.4,846.1 251.9,844.7 252.4,843.3 252.9,841.9 253.4,840.5 253.9,839.1 254.5,837.7 255.0,836.3 255.6,834.9 256.1,833.5 256.7,832.1 257.2,830.7 257.8,829.3 258.3,827.9 258.8,826.5 259.4,825.1 259.9,823.7 260.4,822.3 260.9,820.9 261.5,819.5 262.0,818.0 262.5,816.6 263.0,815.2 263.5,813.8 264.0,812.4 264.5,811.0 265.0,809.6 265.5,808.1 265.9,806.7 266.4,805.3 266.9,803.9 267.4,802.5 267.9,801.0 268.4,799.6 268.9,798.2 269.4,796.8 269.9,795.4 270.4,794.0 270.9,792.5 271.4,791.1 271.9,789.7 272.4,788.3 272.9,786.9 273.4,785.5 273.9,784.1 274.4,782.7 275.0,781.3 275.5,779.9 276.1,778.5 276.6,777.1 277.2,775.7 277.8,774.3 278.4,772.9 279.0,771.6 279.6,770.2 280.3,768.9 280.9,767.5 281.6,766.2 282.3,764.8 283.0,763.5 283.7,762.2 284.5,760.9 285.3,759.6 286.0,758.3 286.9,757.1 287.7,755.8 288.6,754.6 289.4,753.4 290.3,752.2 291.3,751.0 292.2,749.8 293.2,748.7 294.2,747.6 295.2,746.4 296.2,745.3 297.2,744.3 298.3,743.2 299.3,742.1 300.4,741.1 301.5,740.0 302.5,739.0 303.6,737.9 304.7,736.9 305.8,735.9 306.9,734.9 308.0,733.9 309.1,732.8 310.2,731.8 311.3,730.8 312.5,729.8 313.6,728.8 314.7,727.8 315.8,726.8 317.0,725.9 318.1,724.9 319.3,724.0 320.5,723.0 321.7,722.1 322.9,721.3 324.1,720.4 325.4,719.6 326.7,718.8 328.0,718.1 329.3,717.4 330.7,716.7 332.0,716.1 333.4,715.6 334.8,715.1 336.3,714.6 337.7,714.2 339.2,714.0 340.7,713.8 342.2,713.7 343.7,713.7 345.2,713.7 346.7,713.8 348.2,713.9 349.7,713.9 351.2,713.8 352.7,713.6 354.1,713.3 355.6,712.9 357.0,712.4 358.4,711.8 359.8,711.2 361.1,710.6 362.5,709.9 363.8,709.3 365.2,708.7 366.6,708.1 368.0,707.5 369.4,707.1 370.9,706.7 372.3,706.4 373.8,706.3 375.3,706.3 376.8,706.4 378.3,706.6 379.8,706.9 381.2,707.3 382.7,707.7 384.1,708.2 385.5,708.7 386.9,709.2 388.3,709.7 389.7,710.2 391.2,710.7 392.6,711.2 394.0,711.7 395.4,712.2 396.9,712.6 398.3,713.0 399.7,713.5 401.2,713.9 402.6,714.3 404.1,714.7 405.5,715.1 407.0,715.5 408.4,715.9 409.9,716.2 411.3,716.6 412.8,717.0 414.2,717.4 415.7,717.8 417.1,718.1 418.6,718.5 420.0,718.9 421.5,719.3 422.9,719.7 424.4,720.1 425.8,720.4 427.3,720.8 428.7,721.2 430.2,721.6 431.6,721.9 433.1,722.3 434.5,722.7 436.0,723.0 437.5,723.4 438.9,723.8 440.4,724.1 441.8,724.4 443.3,724.8 444.8,725.1 446.2,725.4 447.7,725.7 449.2,726.1 450.6,726.4 452.1,726.6 453.6,726.9 455.1,727.2 456.5,727.5 458.0,727.7 459.5,727.9 461.0,728.2 462.5,728.4 463.9,728.6 465.4,728.8 466.9,729.0 468.4,729.2 469.9,729.3 471.4,729.5 472.9,729.7 474.4,729.9 475.8,730.1 477.3,730.4 478.8,730.7 480.3,731.0 481.7,731.3 483.2,731.7 484.6,732.2 486.0,732.7 487.4,733.3 488.8,733.9 490.1,734.6 491.4,735.3 492.7,736.2 493.9,737.0 495.1,737.9 496.3,738.8 497.4,739.8 498.6,740.8 499.7,741.8 500.8,742.8 501.9,743.8 503.0,744.8 504.1,745.9 505.1,746.9 506.2,748.0 507.3,749.0 508.3,750.1 509.4,751.2 510.4,752.2 511.5,753.3 512.5,754.4 513.5,755.5 514.6,756.6 515.6,757.7 516.6,758.8 517.6,759.9 518.6,761.0 519.6,762.1 520.6,763.3 521.6,764.4 522.6,765.5 523.5,766.7 524.5,767.8 525.5,769.0 526.5,770.1 527.4,771.2 528.4,772.4 529.3,773.5 530.3,774.7 531.3,775.9 532.2,777.0 533.2,778.2 534.1,779.3 535.1,780.5 536.0,781.7 536.9,782.8 537.9,784.0 538.8,785.2 539.8,786.4 540.7,787.5 541.6,788.7 542.6,789.9 543.5,791.0 544.5,792.2 545.4,793.4 546.3,794.5 547.3,795.7 548.2,796.9 549.2,798.0 550.1,799.2 551.0,800.4 552.0,801.5 552.9,802.7 553.9,803.9 554.8,805.0 555.8,806.2 556.8,807.3 557.7,808.5 558.7,809.6 559.7,810.8 560.6,811.9 561.6,813.1 562.6,814.2 563.6,815.3 564.6,816.5 565.6,817.6 566.6,818.7 567.6,819.8 568.6,820.9 569.6,822.0 570.6,823.1 571.6,824.2 572.7,825.3 573.7,826.4 574.7,827.5 575.8,828.5 576.9,829.6 577.9,830.7 579.0,831.7 580.1,832.7 581.2,833.8 582.3,834.8 583.4,835.8 584.5,836.8 585.6,837.8 586.7,838.8 587.9,839.8 589.0,840.7 590.2,841.7 591.4,842.6 592.6,843.5 593.8,844.4 595.0,845.3 596.2,846.2 597.4,847.0 598.7,847.9 599.9,848.7 601.2,849.5 602.5,850.3 603.8,851.1 605.1,851.8 606.4,852.5 607.7,853.3 609.0,854.0 610.4,854.6 611.7,855.2 613.1,855.8 614.5,856.4 615.9,856.8 617.4,857.2 618.9,857.4 620.4,857.5 621.9,857.4 623.3,857.0 624.7,856.3 625.9,855.4 626.9,854.3 627.8,853.1 628.5,851.9 629.2,850.5 629.9,849.2 630.4,847.8 631.0,846.4 631.5,845.0 631.9,843.5 632.4,842.1 632.8,840.7 633.2,839.2 633.6,837.8 634.0,836.3 634.3,834.9 634.7,833.4 635.0,831.9 635.4,830.5 635.8,829.0 636.2,827.6 636.6,826.1 637.0,824.7 637.4,823.3 637.8,821.8 638.3,820.4 638.7,818.9 639.1,817.5 639.6,816.1 640.0,814.6 640.4,813.2 640.8,811.7 641.2,810.3 641.6,808.8 642.0,807.4 642.3,805.9 642.7,804.5 643.1,803.0 643.5,801.6 643.9,800.1 644.3,798.7 644.8,797.3 645.3,795.9 645.9,794.5 646.5,793.1 647.1,791.8 647.9,790.5 648.7,789.2 649.5,787.9 650.4,786.8 651.4,785.6 652.5,784.6 653.6,783.6 654.7,782.6 655.9,781.6 657.0,780.6 658.1,779.7 659.3,778.7 660.4,777.6 661.4,776.5 662.4,775.4 663.4,774.3 664.3,773.1 665.2,771.9 666.0,770.7 666.9,769.4 667.7,768.2 668.5,766.9 669.3,765.6 670.1,764.3 670.8,763.0 671.6,761.8 672.4,760.5 673.3,759.3 674.1,758.0 675.0,756.8 676.0,755.7 677.0,754.5 678.0,753.5 679.2,752.5 680.4,751.7 681.8,751.1 683.2,750.6 684.7,750.5 686.2,750.7 687.7,751.1 689.1,751.6 690.5,752.2 691.8,752.8 693.2,753.5 694.5,754.2 695.8,754.8 697.2,755.5 698.6,756.1 699.9,756.8 701.3,757.4 702.6,758.1 703.9,758.9 705.2,759.6 706.4,760.5 707.6,761.3 708.8,762.3 709.9,763.3 711.0,764.4 712.0,765.5 712.9,766.6 713.8,767.8 714.7,769.1 715.5,770.3 716.3,771.6 717.1,772.9 717.8,774.2 718.5,775.5 719.1,776.9 719.7,778.3 720.4,779.6 720.9,781.0 721.5,782.4 722.1,783.8 722.6,785.2 723.2,786.6 723.7,788.0 724.2,789.4 724.7,790.8 725.3,792.2 725.8,793.6 726.3,795.0 726.8,796.4 727.3,797.9 727.8,799.3 728.3,800.7 728.8,802.1 729.3,803.5 729.8,804.9 730.4,806.3 730.9,807.7 731.5,809.1 732.0,810.5 732.6,811.9 733.2,813.3 733.8,814.6 734.4,816.0 735.1,817.4 735.7,818.7 736.4,820.0 737.1,821.4 737.8,822.7 738.5,824.0 739.3,825.3 740.0,826.6 740.9,827.9 741.7,829.1 742.6,830.3 743.5,831.5 744.4,832.7 745.4,833.8 746.4,835.0 747.4,836.0 748.5,837.1 749.6,838.0 750.8,839.0 752.0,839.8 753.3,840.6 754.6,841.4 756.0,842.0 757.4,842.5 758.8,843.0 760.3,843.3 761.7,843.6 763.2,843.7 764.7,843.8 766.2,843.8 767.7,843.7 769.2,843.6 770.7,843.4 772.2,843.2 773.7,843.0 775.2,842.8 776.7,842.6 778.2,842.4 779.7,842.2 781.1,842.1 782.6,842.0 784.1,842.0 785.6,842.1 787.1,842.2 788.6,842.5 790.1,842.8 791.5,843.3 792.9,843.9 794.2,844.6 795.5,845.4 796.7,846.2 797.9,847.1 799.1,848.0 800.2,849.0 801.3,850.0 802.4,851.1 803.5,852.1 804.5,853.2 805.5,854.3 806.5,855.5 807.5,856.6 808.5,857.7 809.5,858.8 810.5,860.0 811.5,861.1 812.5,862.2 813.5,863.3 814.5,864.4 815.5,865.5 816.6,866.6 817.7,867.6 818.8,868.6 819.9,869.6 821.1,870.6 822.3,871.5 823.5,872.3 824.8,873.1 826.1,873.8 827.4,874.5 828.8,875.1 830.2,875.8 831.5,876.4 832.9,877.0 834.3,877.6 835.6,878.3 837.0,878.9 838.3,879.7 839.5,880.5 840.8,881.3 842.0,882.1 843.3,883.0 844.5,883.9 845.7,884.7 847.0,885.6 848.2,886.4 849.5,887.2 850.8,887.9 852.2,888.5 853.5,889.1 854.9,889.7 856.3,890.3 857.7,890.9 859.1,891.5 860.5,892.1 861.8,892.7 863.2,893.4 864.5,894.0 865.8,894.7 867.1,895.4 868.5,896.1 869.8,896.8 871.2,897.4 872.6,898.0 874.0,898.5 875.5,898.8 876.9,899.1 878.4,899.2 879.9,899.2 881.4,899.1 882.9,899.0 884.4,898.7 885.9,898.4 887.3,898.0 888.8,897.6 890.2,897.2 891.6,896.8 893.1,896.3 894.5,895.9 896.0,895.5 897.4,895.1 898.9,894.7 900.3,894.4 901.8,894.1 903.3,893.8 904.8,893.6 906.2,893.5 907.7,893.4 909.2,893.4 910.7,893.5 912.2,893.6 913.7,893.8 915.2,894.1 916.7,894.4 918.1,894.9 919.5,895.4 920.8,896.1 922.2,896.8 923.4,897.6 924.6,898.5 925.8,899.4 926.9,900.4 928.0,901.4 929.1,902.4 930.2,903.5 931.3,904.5 932.4,905.5 933.5,906.5 934.6,907.6 935.8,908.5 936.9,909.5 938.0,910.5 939.2,911.4 940.4,912.4 941.6,913.3 942.8,914.2 944.0,915.0 945.3,915.8 946.6,916.6 947.9,917.4 949.2,918.1 950.5,918.8 951.9,919.4 953.2,920.0 954.6,920.6 956.0,921.2 957.4,921.8 958.7,922.4 960.1,923.0 961.5,923.6 962.9,924.2 964.2,924.9 965.6,925.5 966.9,926.2 968.2,926.9 969.5,927.7 970.8,928.5 972.1,929.3 973.3,930.1 974.6,930.9 975.9,931.7 977.2,932.4 978.5,933.1 979.8,933.8 981.2,934.4 982.6,934.9 984.1,935.4 985.5,935.8 986.9,936.2 988.4,936.7 989.8,937.1 991.2,937.6 992.6,938.1 994.0,938.7 995.3,939.4 996.6,940.1 997.9,941.0 999.0,941.9 1000.1,943.0 1001.0,944.2 1001.9,945.4 1002.6,946.7 1003.2,948.1 1003.7,949.5 1004.2,950.9 1004.6,952.4 1005.1,953.8 1005.5,955.2 1006.0,956.7 1006.5,958.1 1007.1,959.4 1007.8,960.8 1008.5,962.1 1009.3,963.4 1010.1,964.6 1011.0,965.8 1011.9,967.0 1012.8,968.2 1013.8,969.4 1014.8,970.5 1015.9,971.5 1017.0,972.5 1018.3,973.2 1019.8,973.6 1021.2,973.5 1022.6,972.9 1023.9,972.1 1025.1,971.2 1026.3,970.3 1027.6,969.6 1029.0,969.0 1030.5,968.7 1031.9,968.6 1033.4,968.7 1034.9,968.9 1036.4,969.1 1037.9,969.2 1039.4,969.1 1040.9,968.7 1042.2,968.0 1043.4,967.1 1044.5,966.1 1045.5,965.0 1046.6,964.0 1047.7,963.0 1048.9,962.1 1050.2,961.3 1051.5,960.6 1053.0,960.1 1054.4,959.7 1055.8,959.3 1057.3,959.0 1058.8,958.7 1060.2,958.3 1061.7,957.9 1063.1,957.5 1064.5,957.0 1065.9,956.4 1067.3,955.8 1068.7,955.2 1070.0,954.6 1071.4,954.0 1072.8,953.4 1074.1,952.7 1075.5,952.1 1076.9,951.5 1078.3,951.0 1079.7,950.4 1081.1,949.9 1082.5,949.5 1084.0,949.1 1085.4,948.7 1086.9,948.4 1088.4,948.2 1089.9,948.1 1091.4,948.1 1092.9,948.1 1094.4,948.3 1095.8,948.6 1097.3,949.0 1098.7,949.5 1100.1,950.1 1101.4,950.7 1102.7,951.4 1104.1,952.1 1105.4,952.8 1106.8,953.5 1108.1,954.0 1109.6,954.5 1111.0,954.9 1112.5,955.0 1114.0,955.0 1115.5,954.7 1116.9,954.4 1118.4,953.9 1119.7,953.2 1121.1,952.5 1122.3,951.8 1123.6,950.9 1124.8,950.0 1125.9,949.1 1127.1,948.1 1128.2,947.1 1129.3,946.1 1130.4,945.0 1131.4,944.0 1132.5,942.9 1133.6,941.9 1134.7,940.8 1135.8,939.8 1136.9,938.8 1138.0,937.8 1139.2,936.9 1140.4,936.0 1141.6,935.2 1142.9,934.4 1144.3,933.7 1145.7,933.2 1147.1,932.8 1148.6,932.5 1150.1,932.3 1151.6,932.3 1153.1,932.3 1154.6,932.5 1156.0,932.8 1157.5,933.2 1158.9,933.6 1160.3,934.2 1161.7,934.8 1163.0,935.5 1164.3,936.3 1165.6,937.0 1166.8,937.8 1168.1,938.7 1169.4,939.5 1170.6,940.3 1171.9,941.1 1173.2,941.8 1174.5,942.6 1175.9,943.2 1177.2,943.8 1178.7,944.3 1180.1,944.6 1181.6,944.9 1183.1,945.1 1184.6,945.2 1186.1,945.3 1187.6,945.3 1189.1,945.3 1190.6,945.3 1192.1,945.3 1193.6,945.4 1195.1,945.4 1196.6,945.5 1198.1,945.7 1199.5,945.9 1201.0,946.3 1202.5,946.7 1203.9,947.1 1205.3,947.7 1206.7,948.3 1208.0,948.9 1209.3,949.6 1210.7,950.3 1211.9,951.1 1213.2,951.9 1214.5,952.7 1215.7,953.6 1216.9,954.4 1218.2,955.3 1219.4,956.2 1220.6,957.1 1221.8,957.9 1223.0,958.8 1224.2,959.7 1225.5,960.5 1226.7,961.4 1228.0,962.2 1229.2,963.0 1230.5,963.8 1231.8,964.5 1233.2,965.2 1234.5,965.8 1235.9,966.4 1237.3,966.9 1238.8,967.4 1240.2,967.8 1241.7,968.2 1243.1,968.5 1244.6,968.8 1246.0,969.1 1247.5,969.4 1249.0,969.7 1250.5,970.0 1251.9,970.3 1253.4,970.7 1254.9,971.0 1256.3,971.4 1257.8,971.8 1259.2,972.2 1260.6,972.7 1262.0,973.3 1263.4,973.9 1264.7,974.5 1266.1,975.1 1267.4,975.8 1268.8,976.4 1270.1,977.1 1271.5,977.8 1272.8,978.4 1274.2,979.0 1275.6,979.6 1277.0,980.2 1278.4,980.7 1279.8,981.2 1281.2,981.6 1282.7,982.0 1284.1,982.4 1285.6,982.7 1287.1,983.0 1288.5,983.3 1290.0,983.6 1291.5,983.8 1293.0,984.0 1294.5,984.1 1296.0,984.3 1297.5,984.4 1299.0,984.5 1300.5,984.6 1302.0,984.6 1303.5,984.6 1305.0,984.7 1306.5,984.6 1308.0,984.6 1309.5,984.6 1311.0,984.5 1312.5,984.5 1314.0,984.4 1315.5,984.3 1317.0,984.1 1318.5,984.0 1319.9,983.8 1321.4,983.6 1322.9,983.4 1324.4,983.2 1325.9,982.9 1327.3,982.6 1328.8,982.3 1330.3,982.0 1331.7,981.6 1333.2,981.2 1334.6,980.8 1336.1,980.3 1337.5,979.9 1338.9,979.4 1340.3,978.8 1341.7,978.3 1343.1,977.7 1344.5,977.2 1345.9,976.6 1347.2,976.0 1348.6,975.4 1350.0,974.8 1351.4,974.3 1352.8,973.7 1354.2,973.2 1355.6,972.7 1357.0,972.1 1358.4,971.5 1359.7,970.8 1360.9,970.0 1362.1,969.0 1363.2,968.0 1364.1,966.8 1365.0,965.6 1365.7,964.3 1366.4,962.9 1367.0,961.6 1367.5,960.2 1368.0,958.7 1368.4,957.3 1368.8,955.8 1369.2,954.4 1369.5,952.9 1369.8,951.5 1370.1,950.0 1370.3,948.5 1370.6,947.0 1370.9,945.6 1371.1,944.1 1371.4,942.6 1371.7,941.1 1371.9,939.6 1372.2,938.2 1372.4,936.7 1372.7,935.2 1372.9,933.7 1373.2,932.2 1373.4,930.8 1373.6,929.3 1373.9,927.8 1374.1,926.3 1374.3,924.8 1374.6,923.4 1374.8,921.9 1375.0,920.4 1375.2,918.9 1375.4,917.4 1375.6,915.9 1375.8,914.4 1376.0,913.0 1376.2,911.5 1376.4,910.0 1376.6,908.5 1376.8,907.0 1376.9,905.5 1377.1,904.0 1377.3,902.5 1377.5,901.0 1377.6,899.5 1377.8,898.1 1378.0,896.6 1378.1,895.1 1378.3,893.6 1378.5,892.1 1378.6,890.6 1378.8,889.1 1378.9,887.6 1379.1,886.1 1379.2,884.6 1379.4,883.1 1379.5,881.6 1379.7,880.1 1379.8,878.7 1380.0,877.2 1380.1,875.7 1380.2,874.2 1380.4,872.7 1380.5,871.2 1380.7,869.7 1380.8,868.2 1381.0,866.7 1381.1,865.2 1381.2,863.7 1381.4,862.2 1381.5,860.7 1381.7,859.2 1381.8,857.7 1381.9,856.3 1382.1,854.8 1382.2,853.3 1382.4,851.8 1382.5,850.3 1382.7,848.8 1382.8,847.3 1383.0,845.8 1383.1,844.3 1383.3,842.8 1383.4,841.3 1383.6,839.8 1383.7,838.3 1383.9,836.8 1384.0,835.4 1384.2,833.9 1384.4,832.4 1384.5,830.9 1384.7,829.4 1384.9,827.9 1385.0,826.4 1385.2,824.9 1385.4,823.4 1385.5,821.9 1385.7,820.4 1385.9,818.9 1386.0,817.5 1386.2,816.0 1386.4,814.5 1386.6,813.0 1386.7,811.5 1386.9,810.0 1387.1,808.5 1387.3,807.0 1387.4,805.5 1387.6,804.0 1387.8,802.6 1388.0,801.1 1388.1,799.6 1388.3,798.1 1388.5,796.6 1388.7,795.1 1388.9,793.6 1389.0,792.1 1389.2,790.6 1389.4,789.2 1389.6,787.7 1389.8,786.2 1390.0,784.7 1390.1,783.2 1390.4,781.7 1390.6,780.2 1390.8,778.7 1391.1,777.3 1391.4,775.8 1391.7,774.3 1392.1,772.9 1392.4,771.4 1392.9,770.0 1393.3,768.5 1393.8,767.1 1394.5,765.8 1395.5,764.7 1396.9,764.3 1398.3,764.6 1399.6,765.4 1400.7,766.4 1401.6,767.6 1402.3,768.9 1402.9,770.3 1403.3,771.8 1403.7,773.2 1403.9,774.7 1404.2,776.2 1404.4,777.6 1404.7,779.1 1404.9,780.6 1405.1,782.1 1405.4,783.6 1405.6,785.1 1405.8,786.5 1406.1,788.0 1406.3,789.5 1406.6,791.0 1406.8,792.5 1407.0,793.9 1407.3,795.4 1407.5,796.9 1407.8,798.4 1408.0,799.9 1408.3,801.3 1408.5,802.8 1408.7,804.3 1409.0,805.8 1409.2,807.3 1409.4,808.8 1409.7,810.2 1409.9,811.7 1410.1,813.2 1410.4,814.7 1410.6,816.2 1410.8,817.6 1411.1,819.1 1411.3,820.6 1411.5,822.1 1411.7,823.6 1411.9,825.1 1412.1,826.6 1412.3,828.0 1412.5,829.5 1412.7,831.0 1412.9,832.5 1413.1,834.0 1413.3,835.5 1413.5,837.0 1413.7,838.5 1413.9,839.9 1414.1,841.4 1414.3,842.9 1414.4,844.4 1414.6,845.9 1414.8,847.4 1415.0,848.9 1415.2,850.4 1415.3,851.9 1415.5,853.3 1415.7,854.8 1415.9,856.3 1416.0,857.8 1416.2,859.3 1416.4,860.8 1416.6,862.3 1416.8,863.8 1417.0,865.3 1417.1,866.8 1417.3,868.2 1417.5,869.7 1417.7,871.2 1417.9,872.7 1418.1,874.2 1418.3,875.7 1418.5,877.2 1418.7,878.7 1418.9,880.1 1419.1,881.6 1419.4,883.1 1419.6,884.6 1419.8,886.1 1420.0,887.6 1420.3,889.0 1420.5,890.5 1420.7,892.0 1421.0,893.5 1421.3,895.0 1421.5,896.4 1421.8,897.9 1422.1,899.4 1422.3,900.9 1422.7,902.3 1423.0,903.8 1423.4,905.2 1423.8,906.7 1424.2,908.1 1424.7,909.5 1425.3,910.9 1425.9,912.3 1426.5,913.6 1427.3,915.0 1428.0,916.2 1428.9,917.5 1429.8,918.6 1431.0,919.5 1432.5,919.5 1433.8,918.7 1434.8,917.7 1435.8,916.5 1436.7,915.3 1437.6,914.1 1438.5,912.9 1439.3,911.6 1440.1,910.4 1440.9,909.1 1441.7,907.8 1442.5,906.5 1443.2,905.2 1443.9,903.9 1444.6,902.6 1445.3,901.2 1446.0,899.9 1446.8,898.7 1447.7,897.4 1448.6,896.3 1449.7,895.2 1450.9,894.3 1452.2,893.5 1453.6,893.0 1455.0,892.7 1456.5,892.7 1458.0,893.1 1459.3,893.7 1460.5,894.6 1461.7,895.6 1462.7,896.7 1463.6,897.9 1464.4,899.1 1465.2,900.4 1465.8,901.8 1466.5,903.1 1467.0,904.5 1467.6,905.9 1468.1,907.3 1468.6,908.7 1469.1,910.2 1469.6,911.6 1470.1,913.0 1470.6,914.4 1471.1,915.8 1471.6,917.2 1472.1,918.6 1472.6,920.1 1473.1,921.5 1473.7,922.9 1474.2,924.3 1474.8,925.6 1475.4,927.0 1475.9,928.4 1476.5,929.8 1477.1,931.2 1477.8,932.5 1478.4,933.9 1479.0,935.3 1479.7,936.6 1480.4,937.9 1481.1,939.3 1481.8,940.6 1482.6,941.9 1483.4,943.1 1484.2,944.4 1485.1,945.6 1486.0,946.8 1487.0,947.9 1488.0,949.0 1489.1,950.1 1490.2,951.0 1491.4,951.9 1492.7,952.6 1494.1,953.3 1495.5,953.8 1496.9,954.2 1498.4,954.5 1499.9,954.7 1501.4,954.7 1502.9,954.7 1504.4,954.6 1505.9,954.4 1507.4,954.2 1508.8,953.8 1510.3,953.4 1511.7,952.9 1513.1,952.4 1514.5,951.9 1515.9,951.2 1517.2,950.6 1518.5,949.8 1519.8,949.1 1521.1,948.3 1522.3,947.4 1523.5,946.5 1524.7,945.6 1525.9,944.7 1527.0,943.6 1528.0,942.6 1529.1,941.5 1530.1,940.4 1531.1,939.3 1532.0,938.1 1532.9,936.9 1533.8,935.7 1534.6,934.5 1535.4,933.2 1536.1,931.8 1536.7,930.5 1537.3,929.1 1537.8,927.7 1538.3,926.3 1538.8,924.8 1539.2,923.4 1539.6,922.0 1540.0,920.5 1540.4,919.1 1540.7,917.6 1541.0,916.1 1541.4,914.7 1541.7,913.2 1542.0,911.7 1542.3,910.3 1542.6,908.8 1542.9,907.3 1543.3,905.9 1543.6,904.4 1543.9,902.9 1544.2,901.5 1544.5,900.0 1544.8,898.5 1545.1,897.0 1545.4,895.6 1545.7,894.1 1546.0,892.6 1546.3,891.2 1546.6,889.7 1546.9,888.2 1547.2,886.8 1547.5,885.3 1547.8,883.8 1548.1,882.4 1548.4,880.9 1548.7,879.4 1549.0,877.9 1549.3,876.5 1549.6,875.0 1549.9,873.5 1550.2,872.1 1550.5,870.6 1550.8,869.1 1551.1,867.7 1551.4,866.2 1551.7,864.7 1552.0,863.2 1552.3,861.8 1552.6,860.3 1552.9,858.8 1553.3,857.4 1553.6,855.9 1553.9,854.4 1554.2,853.0 1554.5,851.5 1554.8,850.0 1555.1,848.6 1555.5,847.1 1555.8,845.6 1556.1,844.2 1556.4,842.7 1556.7,841.2 1557.1,839.8 1557.4,838.3 1557.7,836.8 1558.1,835.4 1558.4,833.9 1558.7,832.5 1559.1,831.0 1559.4,829.5 1559.8,828.1 1560.1,826.6 1560.5,825.2 1560.8,823.7 1561.2,822.2 1561.5,820.8 1561.9,819.3 1562.3,817.9 1562.6,816.4 1563.0,815.0 1563.4,813.5 1563.8,812.1 1564.1,810.6 1564.5,809.2 1564.9,807.7 1565.4,806.3 1565.8,804.8 1566.2,803.4 1566.7,802.0 1567.1,800.5 1567.6,799.1 1568.1,797.7 1568.6,796.3 1569.1,794.9 1569.7,793.5 1570.3,792.1 1570.9,790.7 1571.5,789.4 1572.1,788.0 1572.7,786.6 1573.4,785.3 1574.1,784.0 1574.9,782.7 1575.7,781.4 1576.6,780.3 1577.8,779.3 1579.1,778.7 1580.6,778.4 1582.1,778.7 1583.4,779.3 1584.7,780.2 1585.8,781.2 1586.8,782.3 1587.7,783.5 1588.6,784.7 1589.5,785.9 1590.2,787.2 1590.9,788.6 1591.6,789.9 1592.2,791.3 1592.7,792.7 1593.2,794.1 1593.7,795.5 1594.2,796.9 1594.7,798.3 1595.3,799.7 1595.9,801.1 1596.5,802.5 1597.3,803.7 1598.4,804.8 1599.8,805.2 1601.2,804.7 1602.4,803.8 1603.5,802.8 1604.5,801.7 1605.4,800.5 1606.2,799.2 1606.9,797.9 1607.6,796.5 1608.2,795.1 1608.7,793.7 1609.2,792.3 1609.6,790.9 1610.0,789.4 1610.4,788.0 1610.9,786.6 1611.3,785.1 1611.8,783.7 1612.3,782.3 1612.9,780.9 1613.5,779.6 1614.2,778.2 1615.0,776.9 1615.8,775.7 1616.7,774.5 1617.7,773.4 1619.0,772.6 1620.4,772.4 1621.8,773.0 1623.0,773.9 1624.1,774.9 1625.2,776.0 1626.3,777.0 1627.5,777.8 1628.8,778.5 1630.2,779.0 1631.7,779.4 1633.2,779.6 1634.7,779.7 1636.2,779.7 1637.7,779.6 1639.2,779.5 1640.7,779.4 1642.2,779.3 1643.7,779.3 1645.2,779.5 1646.6,779.8 1648.0,780.4 1649.2,781.2 1650.3,782.3 1651.3,783.4 1652.3,784.6 1653.2,785.8 1654.1,787.0 1655.0,788.1 1656.0,789.3 1657.0,790.4 1658.1,791.4 1659.3,792.3 1660.5,793.2 1661.8,793.9 1663.2,794.5 1664.7,794.9 1666.1,795.2 1667.6,795.2 1669.1,795.2 1670.6,794.9 1672.0,794.5 1673.4,793.9 1674.8,793.3 1676.2,792.7 1677.5,792.1 1679.0,791.6 1680.4,791.3 1681.9,791.4 1683.4,791.6 1684.9,791.9 1686.4,792.0 1687.9,792.0 1689.3,791.5 1690.7,791.0 1692.1,790.4 1693.5,789.8 1694.9,789.4 1696.4,789.4 1697.9,789.7 1699.3,790.2 1700.6,790.9 1701.8,791.8 1703.0,792.8 1704.0,793.9 1704.9,795.0 1705.8,796.2 1706.7,797.4 1707.6,798.6 1708.6,799.8 1709.7,800.8 1710.9,801.7 1712.1,802.5 1713.5,803.2 1714.9,803.7 1716.3,804.1 1717.8,804.2 1719.3,804.2 1720.8,803.8 1722.2,803.2 1723.4,802.4 1724.6,801.5 1725.7,800.5 1726.8,799.5 1727.8,798.4 1728.8,797.2 1729.8,796.1 1730.7,794.9 1731.7,793.8 1732.7,792.7 1733.7,791.5 1734.6,790.4 1735.5,789.2 1736.4,788.0 1737.3,786.7 1738.0,785.4 1738.8,784.1 1739.5,782.8 1740.2,781.5 1740.9,780.2 1741.7,778.9 1742.6,777.7 1743.5,776.5 1744.7,775.6 1746.1,774.9 1747.5,774.7 1749.0,774.7 1750.5,774.8 1752.0,775.1 1753.5,775.4 1754.9,775.8 1756.4,776.1 1757.9,776.4 1759.3,776.6 1760.8,776.6 1762.3,776.5 1763.8,776.2 1765.3,775.9 1766.7,775.5 1768.1,775.0 1769.6,774.6 1771.0,774.3 1772.5,774.1 1774.0,774.1 1775.5,774.4 1776.9,774.8 1778.3,775.4 1779.7,776.0 1781.0,776.7 1782.4,777.4 1783.7,778.1 1785.1,778.7 1786.5,779.3 1787.9,779.8 1789.3,780.2 1790.8,780.5 1792.3,780.7 1793.8,780.9 1795.2,781.1 1796.7,781.2 1798.2,781.2 1799.7,781.2 1801.2,781.2 1802.7,781.2 1804.2,781.2 1805.7,781.2 1807.2,781.2 1808.7,781.2 1810.2,781.2 1811.7,781.3 1813.2,781.4 1814.7,781.6 1816.2,781.8 1817.7,782.0 1819.2,782.3 1820.6,782.6 1822.1,782.9 1823.6,783.3 1825.0,783.7 1826.5,784.1 1827.9,784.5 1829.3,785.0 1830.7,785.5 1832.1,786.0 1833.5,786.5 1834.9,787.1 1836.3,787.6 1837.7,788.2 1839.1,788.8 1840.5,789.5 1841.8,790.1 1843.1,790.8 1844.4,791.6 1845.7,792.4 1846.9,793.2 1848.1,794.1 1849.3,795.1 1850.4,796.1 1851.4,797.2 1852.4,798.4 1853.3,799.6 1854.1,800.8 1854.9,802.1 1855.7,803.4 1856.4,804.7 1857.0,806.0 1857.6,807.4 1858.2,808.8 1858.7,810.2 1859.2,811.6 1859.7,813.0 1860.2,814.5 1860.6,815.9 1861.0,817.4 1861.3,818.8 1861.7,820.3 1862.1,821.7 1862.4,823.2 1862.7,824.6 1863.1,826.1 1863.4,827.6 1863.7,829.0 1864.0,830.5 1864.3,832.0 1864.7,833.4 1865.0,834.9 1865.3,836.4 1865.7,837.8 1866.0,839.3 1866.4,840.7 1866.7,842.2 1867.0,843.7 1867.4,845.1 1867.7,846.6 1868.1,848.0 1868.4,849.5 1868.8,851.0 1869.1,852.4 1869.5,853.9 1869.8,855.3 1870.2,856.8 1870.5,858.3 1870.9,859.7 1871.2,861.2 1871.6,862.6 1871.9,864.1 1872.2,865.6 1872.6,867.0 1872.9,868.5 1873.3,869.9 1873.6,871.4 1874.0,872.9 1874.4,874.3 1874.7,875.8 1875.1,877.2 1875.5,878.7 1875.9,880.1 1876.4,881.5 1876.8,883.0 1877.3,884.4 1877.8,885.8 1878.4,887.2 1879.0,888.6 1879.6,889.9 1880.2,891.3 1880.9,892.6 1881.7,893.9 1882.4,895.2 1883.3,896.5 1884.2,897.7 1885.1,898.8 1886.1,899.9 1887.2,900.9 1888.4,901.9 1889.7,902.6 1891.1,903.3 1892.5,903.8 1893.9,904.1 1895.4,904.3 1896.9,904.4 1898.4,904.5 1899.9,904.7 1901.4,905.1 1902.7,905.6 1903.9,906.5 1904.9,907.7 1905.8,908.9 1907.0,909.8 1908.4,910.1 1908.8,909.9" fill="none" stroke="#940085" stroke-width="8.0" stroke-linejoin="round" stroke-linecap="butt"/>
<path d="M136.0,1232.2 136.5,1232.2 138.0,1232.1 139.5,1232.1 141.0,1232.0 142.5,1231.9 144.0,1231.7 145.5,1231.6 147.0,1231.4 148.5,1231.3 150.0,1231.1 151.4,1230.9 152.9,1230.6 154.4,1230.4 155.9,1230.2 157.4,1229.9 158.8,1229.7 160.3,1229.4 161.8,1229.2 163.3,1228.9 164.8,1228.7 166.2,1228.4 167.7,1228.2 169.2,1228.0 170.7,1227.8 172.2,1227.7 173.7,1227.6 175.2,1227.5 176.7,1227.4 178.2,1227.3 179.7,1227.2 181.2,1227.1 182.7,1226.9 184.2,1226.6 185.6,1226.2 187.0,1225.8 188.4,1225.2 189.8,1224.6 191.1,1224.0 192.4,1223.2 193.7,1222.4 194.9,1221.5 196.1,1220.6 197.3,1219.7 198.4,1218.7 199.5,1217.6 200.6,1216.6 201.6,1215.5 202.6,1214.4 203.6,1213.2 204.5,1212.1 205.5,1210.9 206.4,1209.7 207.3,1208.5 208.2,1207.3 209.0,1206.1 209.9,1204.9 210.7,1203.6 211.5,1202.3 212.3,1201.1 213.1,1199.8 213.9,1198.5 214.6,1197.2 215.4,1195.9 216.1,1194.6 216.8,1193.2 217.5,1191.9 218.1,1190.6 218.8,1189.2 219.4,1187.9 220.1,1186.5 220.7,1185.1 221.3,1183.8 221.9,1182.4 222.5,1181.0 223.1,1179.6 223.6,1178.2 224.2,1176.8 224.8,1175.4 225.3,1174.0 225.8,1172.6 226.4,1171.2 226.9,1169.8 227.4,1168.4 227.9,1167.0 228.4,1165.6 228.9,1164.2 229.4,1162.8 229.9,1161.4 230.4,1159.9 230.9,1158.5 231.4,1157.1 231.9,1155.7 232.4,1154.3 232.9,1152.9 233.4,1151.4 233.9,1150.0 234.4,1148.6 234.9,1147.2 235.4,1145.8 235.9,1144.4 236.4,1142.9 236.9,1141.5 237.4,1140.1 237.9,1138.7 238.4,1137.3 238.9,1135.9 239.4,1134.5 239.9,1133.0 240.4,1131.6 240.9,1130.2 241.4,1128.8 241.9,1127.4 242.4,1126.0 242.9,1124.6 243.4,1123.1 243.9,1121.7 244.4,1120.3 244.9,1118.9 245.4,1117.5 245.9,1116.1 246.4,1114.7 246.9,1113.2 247.4,1111.8 247.9,1110.4 248.4,1109.0 248.9,1107.6 249.4,1106.2 249.8,1104.7 250.3,1103.3 250.8,1101.9 251.3,1100.5 251.8,1099.0 252.3,1097.6 252.7,1096.2 253.2,1094.8 253.7,1093.4 254.2,1091.9 254.7,1090.5 255.1,1089.1 255.6,1087.7 256.1,1086.3 256.6,1084.8 257.1,1083.4 257.6,1082.0 258.0,1080.6 258.5,1079.2 259.0,1077.7 259.5,1076.3 260.0,1074.9 260.5,1073.5 261.0,1072.1 261.5,1070.7 262.0,1069.2 262.5,1067.8 263.1,1066.4 263.6,1065.0 264.1,1063.6 264.6,1062.2 265.2,1060.8 265.7,1059.4 266.2,1058.0 266.8,1056.6 267.3,1055.2 267.9,1053.8 268.5,1052.4 269.0,1051.0 269.6,1049.6 270.2,1048.3 270.8,1046.9 271.4,1045.5 272.0,1044.1 272.6,1042.8 273.2,1041.4 273.8,1040.0 274.4,1038.7 275.0,1037.3 275.7,1035.9 276.3,1034.6 277.0,1033.2 277.7,1031.9 278.4,1030.6 279.0,1029.2 279.8,1027.9 280.5,1026.6 281.2,1025.3 281.9,1024.0 282.7,1022.7 283.5,1021.4 284.2,1020.1 285.0,1018.8 285.9,1017.6 286.7,1016.3 287.5,1015.1 288.4,1013.9 289.3,1012.6 290.2,1011.4 291.1,1010.2 292.0,1009.1 293.0,1007.9 293.9,1006.8 294.9,1005.6 295.9,1004.5 297.0,1003.4 298.0,1002.4 299.1,1001.3 300.2,1000.3 301.3,999.3 302.4,998.3 303.6,997.3 304.8,996.4 306.0,995.5 307.2,994.6 308.4,993.8 309.7,992.9 310.9,992.1 312.2,991.4 313.5,990.6 314.8,989.9 316.2,989.2 317.5,988.6 318.9,987.9 320.3,987.3 321.7,986.8 323.1,986.2 324.5,985.7 325.9,985.2 327.3,984.8 328.7,984.3 330.2,983.9 331.7,983.6 333.1,983.2 334.6,982.9 336.1,982.6 337.5,982.4 339.0,982.2 340.5,982.0 342.0,981.8 343.5,981.6 345.0,981.5 346.5,981.4 348.0,981.3 349.5,981.2 351.0,981.2 352.5,981.1 354.0,981.0 355.5,981.0 357.0,981.0 358.5,980.9 360.0,980.9 361.5,980.9 363.0,980.8 364.5,980.8 366.0,980.8 367.5,980.7 369.0,980.7 370.5,980.7 372.0,980.7 373.5,980.7 375.0,980.7 376.5,980.6 378.0,980.6 379.5,980.6 381.0,980.6 382.5,980.6 384.0,980.6 385.5,980.6 387.0,980.6 388.5,980.7 390.0,980.7 391.5,980.7 393.0,980.7 394.5,980.7 396.0,980.8 397.5,980.8 399.0,980.8 400.5,980.9 402.0,980.9 403.5,981.0 405.0,981.0 406.5,981.1 408.0,981.2 409.5,981.2 411.0,981.3 412.5,981.4 414.0,981.5 415.5,981.6 417.0,981.7 418.5,981.8 420.0,981.9 421.5,982.0 423.0,982.1 424.5,982.2 426.0,982.4 427.5,982.5 428.9,982.6 430.4,982.8 431.9,982.9 433.4,983.1 434.9,983.3 436.4,983.4 437.9,983.6 439.4,983.8 440.9,984.0 442.4,984.2 443.8,984.5 445.3,984.7 446.8,985.0 448.3,985.2 449.8,985.5 451.2,985.8 452.7,986.1 454.2,986.5 455.6,986.8 457.1,987.2 458.5,987.6 460.0,988.0 461.4,988.4 462.8,988.9 464.2,989.4 465.7,989.9 467.1,990.4 468.5,991.0 469.8,991.5 471.2,992.2 472.6,992.8 473.9,993.5 475.2,994.1 476.6,994.9 477.9,995.6 479.2,996.4 480.4,997.2 481.7,998.0 483.0,998.8 484.2,999.6 485.4,1000.5 486.6,1001.4 487.8,1002.3 489.0,1003.2 490.2,1004.1 491.4,1005.1 492.5,1006.0 493.7,1007.0 494.8,1008.0 495.9,1009.0 497.0,1010.0 498.1,1011.0 499.2,1012.0 500.3,1013.1 501.4,1014.1 502.5,1015.2 503.5,1016.2 504.6,1017.3 505.6,1018.4 506.7,1019.4 507.7,1020.5 508.7,1021.6 509.8,1022.7 510.8,1023.8 511.8,1024.9 512.8,1026.1 513.8,1027.2 514.8,1028.3 515.8,1029.4 516.8,1030.5 517.7,1031.7 518.7,1032.8 519.7,1034.0 520.7,1035.1 521.6,1036.3 522.6,1037.4 523.5,1038.6 524.5,1039.7 525.4,1040.9 526.4,1042.1 527.3,1043.2 528.3,1044.4 529.2,1045.6 530.1,1046.8 531.1,1047.9 532.0,1049.1 532.9,1050.3 533.8,1051.5 534.8,1052.7 535.7,1053.9 536.6,1055.0 537.5,1056.2 538.4,1057.4 539.3,1058.6 540.2,1059.8 541.1,1061.0 542.0,1062.2 542.9,1063.4 543.8,1064.6 544.7,1065.8 545.7,1067.0 546.6,1068.2 547.5,1069.4 548.4,1070.6 549.3,1071.8 550.2,1073.0 551.1,1074.2 552.0,1075.4 552.9,1076.6 553.8,1077.8 554.7,1079.0 555.6,1080.2 556.5,1081.4 557.4,1082.6 558.3,1083.8 559.2,1085.0 560.1,1086.2 561.0,1087.3 562.0,1088.5 562.9,1089.7 563.8,1090.9 564.7,1092.1 565.7,1093.2 566.6,1094.4 567.6,1095.6 568.5,1096.7 569.5,1097.9 570.5,1099.0 571.4,1100.2 572.4,1101.3 573.4,1102.4 574.4,1103.6 575.4,1104.7 576.4,1105.8 577.5,1106.9 578.5,1108.0 579.5,1109.0 580.6,1110.1 581.7,1111.1 582.8,1112.2 583.9,1113.2 585.0,1114.2 586.1,1115.2 587.2,1116.2 588.4,1117.2 589.5,1118.1 590.7,1119.1 591.9,1120.0 593.1,1120.9 594.3,1121.8 595.5,1122.6 596.8,1123.5 598.0,1124.3 599.3,1125.1 600.6,1125.9 601.8,1126.6 603.2,1127.4 604.5,1128.1 605.8,1128.8 607.1,1129.5 608.5,1130.1 609.9,1130.7 611.3,1131.3 612.7,1131.8 614.1,1132.3 615.5,1132.7 617.0,1133.1 618.5,1133.3 620.0,1133.4 621.5,1133.3 622.9,1133.1 624.4,1132.7 625.7,1132.0 627.0,1131.2 628.1,1130.2 629.1,1129.1 630.0,1127.9 630.9,1126.7 631.6,1125.4 632.4,1124.1 633.0,1122.7 633.7,1121.4 634.3,1120.0 634.9,1118.6 635.4,1117.2 636.0,1115.8 636.5,1114.4 637.1,1113.0 637.6,1111.6 638.1,1110.2 638.6,1108.8 639.1,1107.4 639.6,1105.9 640.0,1104.5 640.5,1103.1 641.0,1101.7 641.5,1100.3 642.0,1098.9 642.5,1097.4 643.1,1096.0 643.6,1094.6 644.2,1093.2 644.7,1091.9 645.3,1090.5 645.9,1089.1 646.4,1087.7 647.0,1086.3 647.6,1084.9 648.2,1083.6 648.8,1082.2 649.5,1080.8 650.1,1079.5 650.7,1078.1 651.3,1076.7 652.0,1075.4 652.6,1074.0 653.2,1072.6 653.9,1071.3 654.5,1069.9 655.1,1068.6 655.8,1067.2 656.4,1065.9 657.1,1064.5 657.7,1063.2 658.4,1061.8 659.0,1060.4 659.6,1059.1 660.3,1057.7 660.9,1056.4 661.6,1055.0 662.2,1053.6 662.8,1052.3 663.4,1050.9 664.1,1049.6 664.7,1048.2 665.3,1046.8 666.0,1045.5 666.7,1044.1 667.3,1042.8 668.0,1041.5 668.7,1040.2 669.5,1038.8 670.2,1037.6 671.0,1036.3 671.9,1035.0 672.7,1033.8 673.6,1032.6 674.5,1031.4 675.5,1030.2 676.4,1029.1 677.5,1028.0 678.5,1026.9 679.6,1025.9 680.8,1025.0 682.1,1024.2 683.5,1023.8 685.0,1023.8 686.5,1024.2 687.8,1025.0 689.0,1025.9 690.1,1026.9 691.2,1027.9 692.3,1028.9 693.3,1030.0 694.4,1031.0 695.4,1032.1 696.5,1033.2 697.5,1034.3 698.5,1035.4 699.5,1036.6 700.5,1037.7 701.4,1038.8 702.4,1040.0 703.3,1041.2 704.2,1042.4 705.1,1043.6 706.0,1044.8 706.8,1046.1 707.6,1047.3 708.4,1048.6 709.2,1049.9 710.0,1051.2 710.7,1052.5 711.4,1053.8 712.1,1055.1 712.7,1056.5 713.4,1057.8 714.0,1059.2 714.6,1060.6 715.2,1062.0 715.8,1063.3 716.4,1064.7 716.9,1066.1 717.5,1067.5 718.0,1068.9 718.5,1070.3 719.1,1071.7 719.6,1073.1 720.1,1074.6 720.6,1076.0 721.1,1077.4 721.6,1078.8 722.1,1080.2 722.6,1081.6 723.1,1083.1 723.6,1084.5 724.1,1085.9 724.6,1087.3 725.1,1088.7 725.6,1090.1 726.1,1091.5 726.7,1092.9 727.2,1094.3 727.7,1095.7 728.3,1097.1 728.9,1098.5 729.4,1099.9 730.0,1101.3 730.6,1102.6 731.3,1104.0 731.9,1105.4 732.6,1106.7 733.2,1108.1 733.9,1109.4 734.6,1110.7 735.3,1112.0 736.1,1113.3 736.8,1114.6 737.6,1115.9 738.4,1117.2 739.2,1118.4 740.1,1119.7 741.0,1120.9 741.8,1122.1 742.8,1123.3 743.7,1124.5 744.7,1125.6 745.7,1126.7 746.7,1127.8 747.7,1128.9 748.8,1130.0 749.9,1131.0 751.0,1132.0 752.2,1132.9 753.4,1133.8 754.6,1134.7 755.9,1135.5 757.1,1136.3 758.4,1137.1 759.8,1137.8 761.1,1138.5 762.5,1139.1 763.8,1139.7 765.2,1140.2 766.6,1140.8 768.1,1141.2 769.5,1141.7 770.9,1142.1 772.4,1142.5 773.8,1142.9 775.3,1143.3 776.8,1143.6 778.2,1143.9 779.7,1144.2 781.2,1144.4 782.7,1144.7 784.1,1144.9 785.6,1145.2 787.1,1145.4 788.6,1145.7 790.0,1146.0 791.5,1146.4 792.9,1146.8 794.4,1147.3 795.7,1147.9 797.1,1148.5 798.4,1149.2 799.7,1149.9 801.0,1150.7 802.3,1151.5 803.5,1152.4 804.7,1153.3 805.9,1154.1 807.1,1155.0 808.4,1155.9 809.6,1156.8 810.8,1157.7 812.0,1158.5 813.3,1159.4 814.5,1160.2 815.8,1161.0 817.1,1161.8 818.4,1162.5 819.7,1163.3 821.0,1164.0 822.3,1164.7 823.7,1165.3 825.0,1166.0 826.4,1166.6 827.8,1167.2 829.2,1167.8 830.5,1168.3 831.9,1168.9 833.4,1169.4 834.8,1169.9 836.2,1170.4 837.6,1170.9 839.0,1171.4 840.5,1171.8 841.9,1172.3 843.3,1172.8 844.7,1173.2 846.1,1173.7 847.6,1174.2 849.0,1174.8 850.4,1175.3 851.7,1175.9 853.1,1176.5 854.5,1177.2 855.8,1177.9 857.1,1178.6 858.5,1179.3 859.8,1180.0 861.1,1180.7 862.4,1181.4 863.8,1182.1 865.1,1182.7 866.5,1183.3 867.9,1183.9 869.3,1184.5 870.7,1184.9 872.1,1185.3 873.6,1185.7 875.1,1185.9 876.6,1186.2 878.0,1186.4 879.5,1186.5 881.0,1186.6 882.5,1186.6 884.0,1186.7 885.5,1186.7 887.0,1186.7 888.5,1186.7 890.0,1186.6 891.5,1186.6 893.0,1186.6 894.5,1186.6 896.0,1186.6 897.5,1186.6 899.0,1186.6 900.5,1186.6 902.0,1186.7 903.5,1186.9 905.0,1187.0 906.5,1187.2 908.0,1187.4 909.5,1187.7 911.0,1188.0 912.4,1188.3 913.9,1188.6 915.3,1189.0 916.8,1189.3 918.2,1189.7 919.7,1190.1 921.1,1190.5 922.6,1191.0 924.0,1191.4 925.5,1191.8 926.9,1192.2 928.3,1192.6 929.8,1193.1 931.2,1193.5 932.7,1193.9 934.1,1194.3 935.6,1194.7 937.0,1195.0 938.5,1195.4 939.9,1195.8 941.4,1196.2 942.8,1196.5 944.3,1196.9 945.7,1197.3 947.2,1197.6 948.7,1198.0 950.1,1198.3 951.6,1198.7 953.0,1199.1 954.5,1199.5 955.9,1199.8 957.4,1200.2 958.8,1200.6 960.3,1201.0 961.7,1201.4 963.2,1201.8 964.6,1202.2 966.0,1202.7 967.5,1203.1 968.9,1203.6 970.3,1204.0 971.8,1204.5 973.2,1205.0 974.6,1205.4 976.0,1205.9 977.5,1206.4 978.9,1206.9 980.3,1207.3 981.7,1207.8 983.2,1208.2 984.6,1208.7 986.1,1209.1 987.5,1209.5 988.9,1209.9 990.4,1210.2 991.9,1210.6 993.3,1210.9 994.8,1211.3 996.2,1211.6 997.7,1212.0 999.2,1212.3 1000.6,1212.7 1002.1,1213.0 1003.5,1213.4 1005.0,1213.8 1006.4,1214.2 1007.9,1214.6 1009.3,1215.0 1010.7,1215.5 1012.2,1215.9 1013.6,1216.4 1015.0,1216.8 1016.5,1217.2 1017.9,1217.7 1019.4,1218.1 1020.8,1218.5 1022.3,1218.8 1023.7,1219.2 1025.2,1219.5 1026.7,1219.8 1028.1,1220.1 1029.6,1220.3 1031.1,1220.4 1032.6,1220.6 1034.1,1220.7 1035.6,1220.7 1037.1,1220.8 1038.6,1220.7 1040.1,1220.7 1041.6,1220.7 1043.1,1220.6 1044.6,1220.5 1046.1,1220.3 1047.6,1220.2 1049.1,1220.1 1050.6,1219.9 1052.1,1219.7 1053.6,1219.6 1055.1,1219.4 1056.5,1219.2 1058.0,1219.0 1059.5,1218.8 1061.0,1218.6 1062.5,1218.4 1064.0,1218.2 1065.5,1218.0 1067.0,1217.8 1068.4,1217.6 1069.9,1217.4 1071.4,1217.2 1072.9,1217.0 1074.4,1216.8 1075.9,1216.6 1077.4,1216.4 1078.9,1216.2 1080.3,1216.0 1081.8,1215.8 1083.3,1215.7 1084.8,1215.5 1086.3,1215.4 1087.8,1215.3 1089.3,1215.2 1090.8,1215.1 1092.3,1215.0 1093.8,1215.0 1095.3,1215.0 1096.8,1215.0 1098.3,1215.0 1099.8,1215.1 1101.3,1215.2 1102.8,1215.4 1104.3,1215.6 1105.8,1215.7 1107.3,1215.9 1108.8,1216.0 1110.3,1216.0 1111.8,1215.9 1113.3,1215.8 1114.7,1215.5 1116.2,1215.2 1117.6,1214.7 1119.1,1214.3 1120.5,1213.8 1121.9,1213.3 1123.3,1212.8 1124.7,1212.3 1126.1,1211.8 1127.6,1211.3 1129.0,1210.9 1130.4,1210.4 1131.9,1210.0 1133.3,1209.5 1134.7,1209.1 1136.2,1208.7 1137.6,1208.4 1139.1,1208.0 1140.6,1207.7 1142.1,1207.4 1143.5,1207.2 1145.0,1207.0 1146.5,1206.8 1148.0,1206.6 1149.5,1206.5 1151.0,1206.5 1152.5,1206.5 1154.0,1206.5 1155.5,1206.6 1157.0,1206.7 1158.5,1206.9 1160.0,1207.2 1161.4,1207.5 1162.9,1207.8 1164.3,1208.3 1165.8,1208.7 1167.2,1209.2 1168.6,1209.7 1170.0,1210.2 1171.4,1210.7 1172.8,1211.2 1174.3,1211.7 1175.7,1212.1 1177.1,1212.6 1178.6,1213.0 1180.0,1213.4 1181.5,1213.7 1183.0,1214.0 1184.4,1214.2 1185.9,1214.3 1187.4,1214.4 1188.9,1214.5 1190.4,1214.5 1191.9,1214.5 1193.4,1214.5 1194.9,1214.5 1196.4,1214.5 1197.9,1214.5 1199.4,1214.5 1200.9,1214.6 1202.4,1214.6 1203.9,1214.8 1205.4,1214.9 1206.9,1215.1 1208.4,1215.3 1209.9,1215.5 1211.4,1215.8 1212.8,1216.1 1214.3,1216.4 1215.8,1216.7 1217.2,1217.0 1218.7,1217.3 1220.2,1217.7 1221.6,1218.0 1223.1,1218.4 1224.5,1218.8 1226.0,1219.1 1227.4,1219.5 1228.9,1219.8 1230.4,1220.2 1231.8,1220.5 1233.3,1220.9 1234.7,1221.2 1236.2,1221.5 1237.7,1221.9 1239.1,1222.2 1240.6,1222.5 1242.1,1222.8 1243.6,1223.1 1245.0,1223.4 1246.5,1223.7 1248.0,1224.0 1249.4,1224.3 1250.9,1224.6 1252.4,1224.8 1253.9,1225.1 1255.3,1225.4 1256.8,1225.7 1258.3,1225.9 1259.8,1226.2 1261.2,1226.5 1262.7,1226.7 1264.2,1227.0 1265.7,1227.3 1267.1,1227.5 1268.6,1227.8 1270.1,1228.1 1271.6,1228.3 1273.1,1228.6 1274.5,1228.8 1276.0,1229.1 1277.5,1229.3 1279.0,1229.6 1280.5,1229.8 1281.9,1230.0 1283.4,1230.3 1284.9,1230.5 1286.4,1230.7 1287.9,1230.9 1289.4,1231.0 1290.9,1231.2 1292.4,1231.4 1293.9,1231.5 1295.4,1231.6 1296.9,1231.7 1298.3,1231.8 1299.8,1231.9 1301.3,1232.0 1302.8,1232.0 1304.3,1232.1 1305.8,1232.1 1307.3,1232.1 1308.8,1232.2 1310.3,1232.2 1311.8,1232.2 1313.4,1232.2 1314.9,1232.2 1316.4,1232.2 1317.9,1232.1 1319.4,1232.1 1320.9,1232.1 1322.4,1232.1 1323.9,1232.1 1325.4,1232.0 1326.9,1232.0 1328.4,1232.0 1329.9,1232.0 1331.4,1231.9 1332.9,1231.9 1334.4,1231.8 1335.8,1231.6 1337.3,1231.5 1338.8,1231.3 1340.3,1231.0 1341.8,1230.7 1343.2,1230.4 1344.7,1230.0 1346.1,1229.5 1347.5,1229.0 1348.9,1228.4 1350.3,1227.8 1351.7,1227.3 1353.1,1226.8 1354.5,1226.3 1356.0,1225.9 1357.4,1225.6 1358.9,1225.2 1360.3,1224.9 1361.8,1224.4 1363.2,1223.8 1364.5,1223.1 1365.6,1222.2 1366.7,1221.1 1367.6,1219.9 1368.3,1218.6 1369.0,1217.2 1369.6,1215.9 1370.1,1214.5 1370.6,1213.0 1371.0,1211.6 1371.4,1210.1 1371.8,1208.7 1372.1,1207.2 1372.5,1205.8 1372.8,1204.3 1373.1,1202.8 1373.5,1201.4 1373.8,1199.9 1374.1,1198.4 1374.4,1197.0 1374.6,1195.5 1374.9,1194.0 1375.2,1192.5 1375.4,1191.1 1375.7,1189.6 1375.9,1188.1 1376.2,1186.6 1376.4,1185.1 1376.6,1183.6 1376.8,1182.2 1377.0,1180.7 1377.2,1179.2 1377.4,1177.7 1377.6,1176.2 1377.8,1174.7 1378.0,1173.2 1378.2,1171.7 1378.4,1170.3 1378.6,1168.8 1378.8,1167.3 1378.9,1165.8 1379.1,1164.3 1379.3,1162.8 1379.5,1161.3 1379.6,1159.8 1379.8,1158.3 1380.0,1156.8 1380.1,1155.4 1380.3,1153.9 1380.4,1152.4 1380.6,1150.9 1380.8,1149.4 1380.9,1147.9 1381.1,1146.4 1381.3,1144.9 1381.4,1143.4 1381.6,1141.9 1381.8,1140.4 1381.9,1138.9 1382.1,1137.4 1382.3,1136.0 1382.4,1134.5 1382.6,1133.0 1382.8,1131.5 1382.9,1130.0 1383.1,1128.5 1383.3,1127.0 1383.5,1125.5 1383.7,1124.0 1383.8,1122.5 1384.0,1121.1 1384.2,1119.6 1384.4,1118.1 1384.6,1116.6 1384.7,1115.1 1384.9,1113.6 1385.1,1112.1 1385.3,1110.6 1385.5,1109.1 1385.6,1107.6 1385.8,1106.2 1386.0,1104.7 1386.2,1103.2 1386.3,1101.7 1386.5,1100.2 1386.7,1098.7 1386.9,1097.2 1387.0,1095.7 1387.2,1094.2 1387.4,1092.7 1387.5,1091.2 1387.7,1089.8 1387.9,1088.3 1388.0,1086.8 1388.2,1085.3 1388.4,1083.8 1388.5,1082.3 1388.7,1080.8 1388.8,1079.3 1389.0,1077.8 1389.1,1076.3 1389.3,1074.8 1389.4,1073.3 1389.5,1071.8 1389.7,1070.3 1389.8,1068.9 1390.0,1067.4 1390.1,1065.9 1390.3,1064.4 1390.5,1062.9 1390.7,1061.4 1390.9,1059.9 1391.1,1058.4 1391.3,1056.9 1391.6,1055.5 1391.8,1054.0 1392.1,1052.5 1392.4,1051.0 1392.8,1049.6 1393.2,1048.1 1393.6,1046.7 1394.0,1045.2 1394.4,1043.8 1394.9,1042.4 1395.4,1041.0 1396.0,1039.6 1396.7,1038.3 1397.7,1037.2 1399.1,1037.3 1400.2,1038.3 1401.2,1039.5 1402.0,1040.7 1402.7,1042.0 1403.4,1043.4 1404.0,1044.7 1404.6,1046.1 1405.1,1047.5 1405.5,1049.0 1405.9,1050.4 1406.2,1051.9 1406.5,1053.4 1406.8,1054.8 1407.0,1056.3 1407.2,1057.8 1407.4,1059.3 1407.6,1060.8 1407.8,1062.3 1408.0,1063.8 1408.2,1065.2 1408.3,1066.7 1408.5,1068.2 1408.7,1069.7 1408.9,1071.2 1409.1,1072.7 1409.3,1074.2 1409.5,1075.7 1409.8,1077.1 1410.0,1078.6 1410.2,1080.1 1410.4,1081.6 1410.6,1083.1 1410.9,1084.6 1411.1,1086.1 1411.3,1087.5 1411.5,1089.0 1411.8,1090.5 1412.0,1092.0 1412.2,1093.5 1412.5,1095.0 1412.7,1096.4 1412.9,1097.9 1413.1,1099.4 1413.4,1100.9 1413.6,1102.4 1413.8,1103.9 1414.0,1105.3 1414.2,1106.8 1414.4,1108.3 1414.6,1109.8 1414.8,1111.3 1415.0,1112.8 1415.2,1114.3 1415.4,1115.8 1415.6,1117.2 1415.8,1118.7 1416.0,1120.2 1416.1,1121.7 1416.3,1123.2 1416.5,1124.7 1416.6,1126.2 1416.8,1127.7 1417.0,1129.2 1417.2,1130.7 1417.4,1132.1 1417.5,1133.6 1417.7,1135.1 1417.9,1136.6 1418.1,1138.1 1418.3,1139.6 1418.5,1141.1 1418.8,1142.6 1419.0,1144.0 1419.2,1145.5 1419.5,1147.0 1419.7,1148.5 1420.0,1150.0 1420.3,1151.4 1420.6,1152.9 1420.9,1154.4 1421.2,1155.8 1421.6,1157.3 1422.0,1158.7 1422.3,1160.2 1422.7,1161.6 1423.1,1163.1 1423.6,1164.5 1424.0,1166.0 1424.5,1167.4 1425.0,1168.8 1425.5,1170.2 1426.0,1171.6 1426.5,1173.0 1427.2,1174.4 1427.9,1175.7 1428.9,1176.8 1430.1,1177.6 1431.6,1177.8 1433.1,1177.5 1434.4,1176.9 1435.7,1176.1 1436.9,1175.2 1438.0,1174.2 1439.0,1173.1 1440.0,1172.0 1440.9,1170.8 1441.8,1169.6 1442.6,1168.3 1443.3,1167.0 1444.0,1165.6 1444.6,1164.3 1445.2,1162.9 1445.8,1161.5 1446.4,1160.1 1447.0,1158.7 1447.6,1157.4 1448.3,1156.0 1449.0,1154.7 1449.8,1153.5 1450.7,1152.3 1451.8,1151.3 1453.1,1150.5 1454.6,1150.1 1456.0,1150.2 1457.5,1150.7 1458.8,1151.3 1460.1,1152.1 1461.3,1153.1 1462.4,1154.0 1463.5,1155.1 1464.4,1156.3 1465.3,1157.5 1466.1,1158.7 1466.9,1160.0 1467.5,1161.4 1468.1,1162.8 1468.7,1164.1 1469.3,1165.5 1469.8,1167.0 1470.3,1168.4 1470.9,1169.8 1471.4,1171.2 1472.0,1172.5 1472.5,1173.9 1473.1,1175.3 1473.7,1176.7 1474.3,1178.1 1475.0,1179.4 1475.6,1180.8 1476.3,1182.1 1477.0,1183.4 1477.7,1184.8 1478.4,1186.1 1479.2,1187.4 1480.0,1188.6 1480.8,1189.9 1481.7,1191.1 1482.5,1192.4 1483.4,1193.6 1484.4,1194.7 1485.3,1195.9 1486.4,1197.0 1487.4,1198.1 1488.5,1199.1 1489.6,1200.1 1490.7,1201.1 1491.9,1202.0 1493.1,1202.9 1494.3,1203.8 1495.6,1204.6 1496.8,1205.4 1498.1,1206.2 1499.5,1206.9 1500.8,1207.6 1502.1,1208.2 1503.5,1208.8 1504.9,1209.4 1506.3,1209.9 1507.7,1210.4 1509.1,1210.9 1510.6,1211.3 1512.0,1211.7 1513.5,1212.0 1515.0,1212.3 1516.5,1212.6 1518.0,1212.7 1519.4,1212.8 1521.0,1212.8 1522.4,1212.7 1523.9,1212.4 1525.4,1212.1 1526.8,1211.6 1528.2,1211.0 1529.5,1210.2 1530.7,1209.3 1531.8,1208.3 1532.8,1207.2 1533.7,1206.0 1534.6,1204.8 1535.4,1203.6 1536.2,1202.3 1537.0,1201.0 1537.8,1199.7 1538.5,1198.4 1539.1,1197.0 1539.8,1195.7 1540.4,1194.3 1541.0,1192.9 1541.5,1191.5 1542.0,1190.1 1542.5,1188.7 1543.0,1187.3 1543.4,1185.8 1543.8,1184.4 1544.2,1183.0 1544.6,1181.5 1545.0,1180.0 1545.3,1178.6 1545.6,1177.1 1545.9,1175.6 1546.2,1174.2 1546.5,1172.7 1546.8,1171.2 1547.0,1169.7 1547.3,1168.3 1547.6,1166.8 1547.8,1165.3 1548.1,1163.8 1548.3,1162.4 1548.6,1160.9 1548.8,1159.4 1549.1,1157.9 1549.4,1156.4 1549.6,1155.0 1549.9,1153.5 1550.2,1152.0 1550.5,1150.5 1550.8,1149.1 1551.1,1147.6 1551.4,1146.1 1551.7,1144.7 1552.0,1143.2 1552.3,1141.7 1552.6,1140.3 1552.9,1138.8 1553.3,1137.3 1553.6,1135.9 1553.9,1134.4 1554.2,1132.9 1554.6,1131.5 1554.9,1130.0 1555.2,1128.5 1555.5,1127.1 1555.9,1125.6 1556.2,1124.1 1556.5,1122.7 1556.9,1121.2 1557.2,1119.8 1557.5,1118.3 1557.8,1116.8 1558.2,1115.4 1558.5,1113.9 1558.8,1112.4 1559.1,1111.0 1559.4,1109.5 1559.7,1108.0 1560.0,1106.6 1560.3,1105.1 1560.6,1103.6 1560.9,1102.1 1561.2,1100.7 1561.5,1099.2 1561.8,1097.7 1562.1,1096.3 1562.4,1094.8 1562.7,1093.3 1563.0,1091.8 1563.3,1090.4 1563.6,1088.9 1563.9,1087.4 1564.3,1086.0 1564.6,1084.5 1564.9,1083.0 1565.3,1081.6 1565.6,1080.1 1566.0,1078.7 1566.4,1077.2 1566.8,1075.8 1567.2,1074.3 1567.6,1072.9 1568.1,1071.5 1568.5,1070.0 1569.0,1068.6 1569.5,1067.2 1570.0,1065.8 1570.5,1064.4 1571.1,1063.0 1571.7,1061.6 1572.2,1060.2 1572.9,1058.8 1573.5,1057.5 1574.1,1056.1 1574.8,1054.8 1575.5,1053.5 1576.3,1052.2 1577.2,1051.0 1578.3,1050.0 1579.7,1049.4 1581.2,1049.4 1582.6,1049.9 1583.9,1050.6 1585.1,1051.5 1586.2,1052.5 1587.1,1053.7 1588.0,1054.9 1588.8,1056.2 1589.5,1057.5 1590.2,1058.8 1590.9,1060.2 1591.5,1061.5 1592.2,1062.9 1593.0,1064.1 1593.9,1065.4 1594.8,1066.5 1596.0,1067.5 1597.2,1068.3 1598.7,1068.7 1600.1,1068.4 1601.4,1067.6 1602.4,1066.5 1603.3,1065.3 1604.1,1064.0 1604.8,1062.7 1605.4,1061.4 1606.0,1060.0 1606.5,1058.6 1607.0,1057.1 1607.4,1055.7 1607.8,1054.2 1608.1,1052.8 1608.5,1051.3 1608.8,1049.9 1609.1,1048.4 1609.5,1046.9 1609.9,1045.5 1610.3,1044.0 1610.8,1042.6 1611.3,1041.2 1611.9,1039.8 1612.6,1038.5 1613.4,1037.2 1614.3,1036.1 1615.4,1035.0 1616.7,1034.3 1618.1,1033.8 1619.6,1033.6 1621.1,1033.8 1622.5,1034.3 1623.7,1035.2 1624.8,1036.2 1625.8,1037.4 1626.7,1038.5 1627.6,1039.8 1628.4,1041.0 1629.3,1042.2 1630.2,1043.4 1631.2,1044.5 1632.3,1045.5 1633.6,1046.4 1635.0,1046.9 1636.5,1047.0 1637.9,1046.8 1639.4,1046.4 1640.8,1045.9 1642.2,1045.4 1643.6,1044.9 1645.0,1044.4 1646.5,1044.0 1648.0,1043.8 1649.5,1044.0 1650.9,1044.5 1652.1,1045.3 1653.2,1046.4 1654.2,1047.5 1655.1,1048.7 1655.9,1049.9 1656.8,1051.2 1657.6,1052.4 1658.4,1053.7 1659.3,1054.9 1660.2,1056.1 1661.1,1057.3 1662.2,1058.3 1663.4,1059.3 1664.7,1060.0 1666.1,1060.4 1667.6,1060.5 1669.1,1060.2 1670.4,1059.5 1671.7,1058.7 1672.8,1057.7 1673.9,1056.6 1674.9,1055.5 1675.9,1054.4 1676.8,1053.2 1677.7,1052.0 1678.6,1050.8 1679.5,1049.6 1680.4,1048.4 1681.3,1047.2 1682.2,1046.0 1683.2,1044.9 1684.1,1043.7 1685.2,1042.6 1686.2,1041.5 1687.3,1040.5 1688.4,1039.5 1689.6,1038.6 1690.9,1037.8 1692.2,1037.1 1693.6,1036.6 1695.1,1036.3 1696.6,1036.4 1698.1,1036.7 1699.5,1037.2 1700.8,1037.9 1702.1,1038.7 1703.3,1039.5 1704.6,1040.4 1705.8,1041.3 1707.0,1042.2 1708.2,1043.0 1709.5,1043.8 1710.8,1044.5 1712.3,1045.0 1713.7,1045.3 1715.2,1045.4 1716.7,1045.2 1718.2,1044.9 1719.6,1044.4 1721.0,1043.8 1722.3,1043.1 1723.5,1042.3 1724.8,1041.4 1725.9,1040.5 1727.0,1039.5 1728.1,1038.4 1729.2,1037.4 1730.2,1036.3 1731.2,1035.1 1732.2,1034.0 1733.1,1032.8 1734.1,1031.7 1735.1,1030.5 1736.1,1029.4 1737.1,1028.3 1738.1,1027.3 1739.3,1026.2 1740.4,1025.3 1741.7,1024.5 1743.0,1023.8 1744.4,1023.2 1745.9,1022.9 1747.3,1022.7 1748.9,1022.7 1750.4,1022.7 1751.8,1022.8 1753.3,1022.9 1754.8,1022.9 1756.3,1022.9 1757.8,1022.9 1759.3,1022.7 1760.8,1022.6 1762.3,1022.4 1763.8,1022.3 1765.3,1022.2 1766.8,1022.1 1768.3,1022.0 1769.8,1022.0 1771.3,1022.0 1772.8,1022.1 1774.3,1022.2 1775.8,1022.3 1777.3,1022.5 1778.8,1022.6 1780.3,1022.8 1781.8,1023.0 1783.3,1023.3 1784.7,1023.5 1786.2,1023.7 1787.7,1023.9 1789.2,1024.1 1790.7,1024.3 1792.2,1024.5 1793.7,1024.7 1795.2,1024.8 1796.6,1024.9 1798.1,1025.1 1799.6,1025.2 1801.1,1025.2 1802.6,1025.3 1804.1,1025.4 1805.6,1025.5 1807.1,1025.5 1808.6,1025.6 1810.1,1025.6 1811.6,1025.7 1813.1,1025.7 1814.6,1025.8 1816.1,1025.8 1817.6,1025.9 1819.1,1026.0 1820.6,1026.1 1822.1,1026.2 1823.6,1026.3 1825.1,1026.4 1826.6,1026.5 1828.1,1026.7 1829.6,1026.9 1831.1,1027.2 1832.5,1027.5 1834.0,1027.8 1835.5,1028.2 1836.9,1028.6 1838.3,1029.1 1839.7,1029.7 1841.1,1030.3 1842.4,1031.1 1843.6,1031.8 1844.9,1032.7 1846.0,1033.6 1847.2,1034.6 1848.3,1035.7 1849.3,1036.8 1850.3,1037.9 1851.2,1039.1 1852.1,1040.3 1853.0,1041.5 1853.8,1042.7 1854.6,1044.0 1855.4,1045.3 1856.1,1046.6 1856.8,1047.9 1857.5,1049.3 1858.1,1050.6 1858.8,1052.0 1859.4,1053.4 1859.9,1054.8 1860.5,1056.1 1861.0,1057.6 1861.5,1059.0 1862.0,1060.4 1862.5,1061.8 1862.9,1063.2 1863.3,1064.7 1863.8,1066.1 1864.1,1067.6 1864.5,1069.0 1864.9,1070.5 1865.3,1071.9 1865.6,1073.4 1866.0,1074.9 1866.3,1076.3 1866.6,1077.8 1866.9,1079.2 1867.3,1080.7 1867.6,1082.2 1867.9,1083.6 1868.2,1085.1 1868.5,1086.6 1868.9,1088.0 1869.2,1089.5 1869.5,1091.0 1869.8,1092.4 1870.2,1093.9 1870.5,1095.4 1870.9,1096.8 1871.2,1098.3 1871.6,1099.7 1871.9,1101.2 1872.3,1102.7 1872.7,1104.1 1873.0,1105.6 1873.4,1107.0 1873.8,1108.5 1874.2,1109.9 1874.6,1111.4 1875.0,1112.8 1875.4,1114.3 1875.7,1115.7 1876.1,1117.2 1876.5,1118.6 1877.0,1120.1 1877.4,1121.5 1877.8,1122.9 1878.2,1124.4 1878.6,1125.8 1879.0,1127.3 1879.5,1128.7 1879.9,1130.1 1880.4,1131.6 1880.9,1133.0 1881.4,1134.4 1881.9,1135.8 1882.5,1137.2 1883.1,1138.6 1883.7,1139.9 1884.3,1141.3 1884.9,1142.7 1885.6,1144.0 1886.3,1145.3 1887.0,1146.6 1887.8,1147.9 1888.7,1149.1 1889.8,1150.2 1891.0,1151.1 1892.4,1151.5 1893.8,1151.3 1895.1,1150.6 1896.3,1149.6 1897.4,1148.6 1898.4,1147.5 1899.5,1146.4 1900.5,1145.3 1901.6,1144.3 1902.7,1143.3 1904.0,1142.5 1905.5,1142.1 1907.0,1142.2 1908.4,1142.6 1908.8,1142.8" fill="none" stroke="#FF8200" stroke-width="8.0" stroke-linejoin="round" stroke-linecap="butt"/>
<line x1="1397.5" y1="7.9" x2="1397.5" y2="1331" stroke="#000" stroke-width="3" stroke-dasharray="12 7.24"/>
<line x1="1694.5" y1="14.9" x2="1694.5" y2="1331" stroke="#000" stroke-width="3" stroke-dasharray="12 7.24"/>
<text x="319.0" y="1429.1" font-size="68" text-anchor="middle" transform="translate(0,1429.1) scale(1,1.03) translate(0,-1429.1)">3500</text>
<text x="624.6" y="1429.1" font-size="68" text-anchor="middle" transform="translate(0,1429.1) scale(1,1.03) translate(0,-1429.1)">3000</text>
<text x="930.2" y="1429.1" font-size="68" text-anchor="middle" transform="translate(0,1429.1) scale(1,1.03) translate(0,-1429.1)">2500</text>
<text x="1235.8" y="1429.1" font-size="68" text-anchor="middle" transform="translate(0,1429.1) scale(1,1.03) translate(0,-1429.1)">2000</text>
<text x="1541.4" y="1429.1" font-size="68" text-anchor="middle" transform="translate(0,1429.1) scale(1,1.03) translate(0,-1429.1)">1500</text>
<text x="1847.0" y="1429.1" font-size="68" text-anchor="middle" transform="translate(0,1429.1) scale(1,1.03) translate(0,-1429.1)">1000</text>
<text x="672" y="1569" font-size="80">Wavenumber (cm<tspan font-size="49" dy="-43">-1</tspan><tspan dy="43">)</tspan></text>
<text transform="translate(67,1047) rotate(-90)" x="0" y="0" font-size="80">Absorbance (a.u.)</text>
<text x="1003" y="286" font-size="80">BNC</text>
<text x="1015" y="583" font-size="80">VNC</text>
<text x="984" y="906" font-size="80">AcBNC</text>
<text x="988" y="1179" font-size="80">AcVNC</text>
<text x="1416" y="796" font-size="62" transform="translate(0,796) scale(1,1.07) translate(0,-796)">C=O</text>
<text x="1709" y="727" font-size="62" transform="translate(0,727) scale(1,1.07) translate(0,-727)">C-O</text>
</svg></body></html>
